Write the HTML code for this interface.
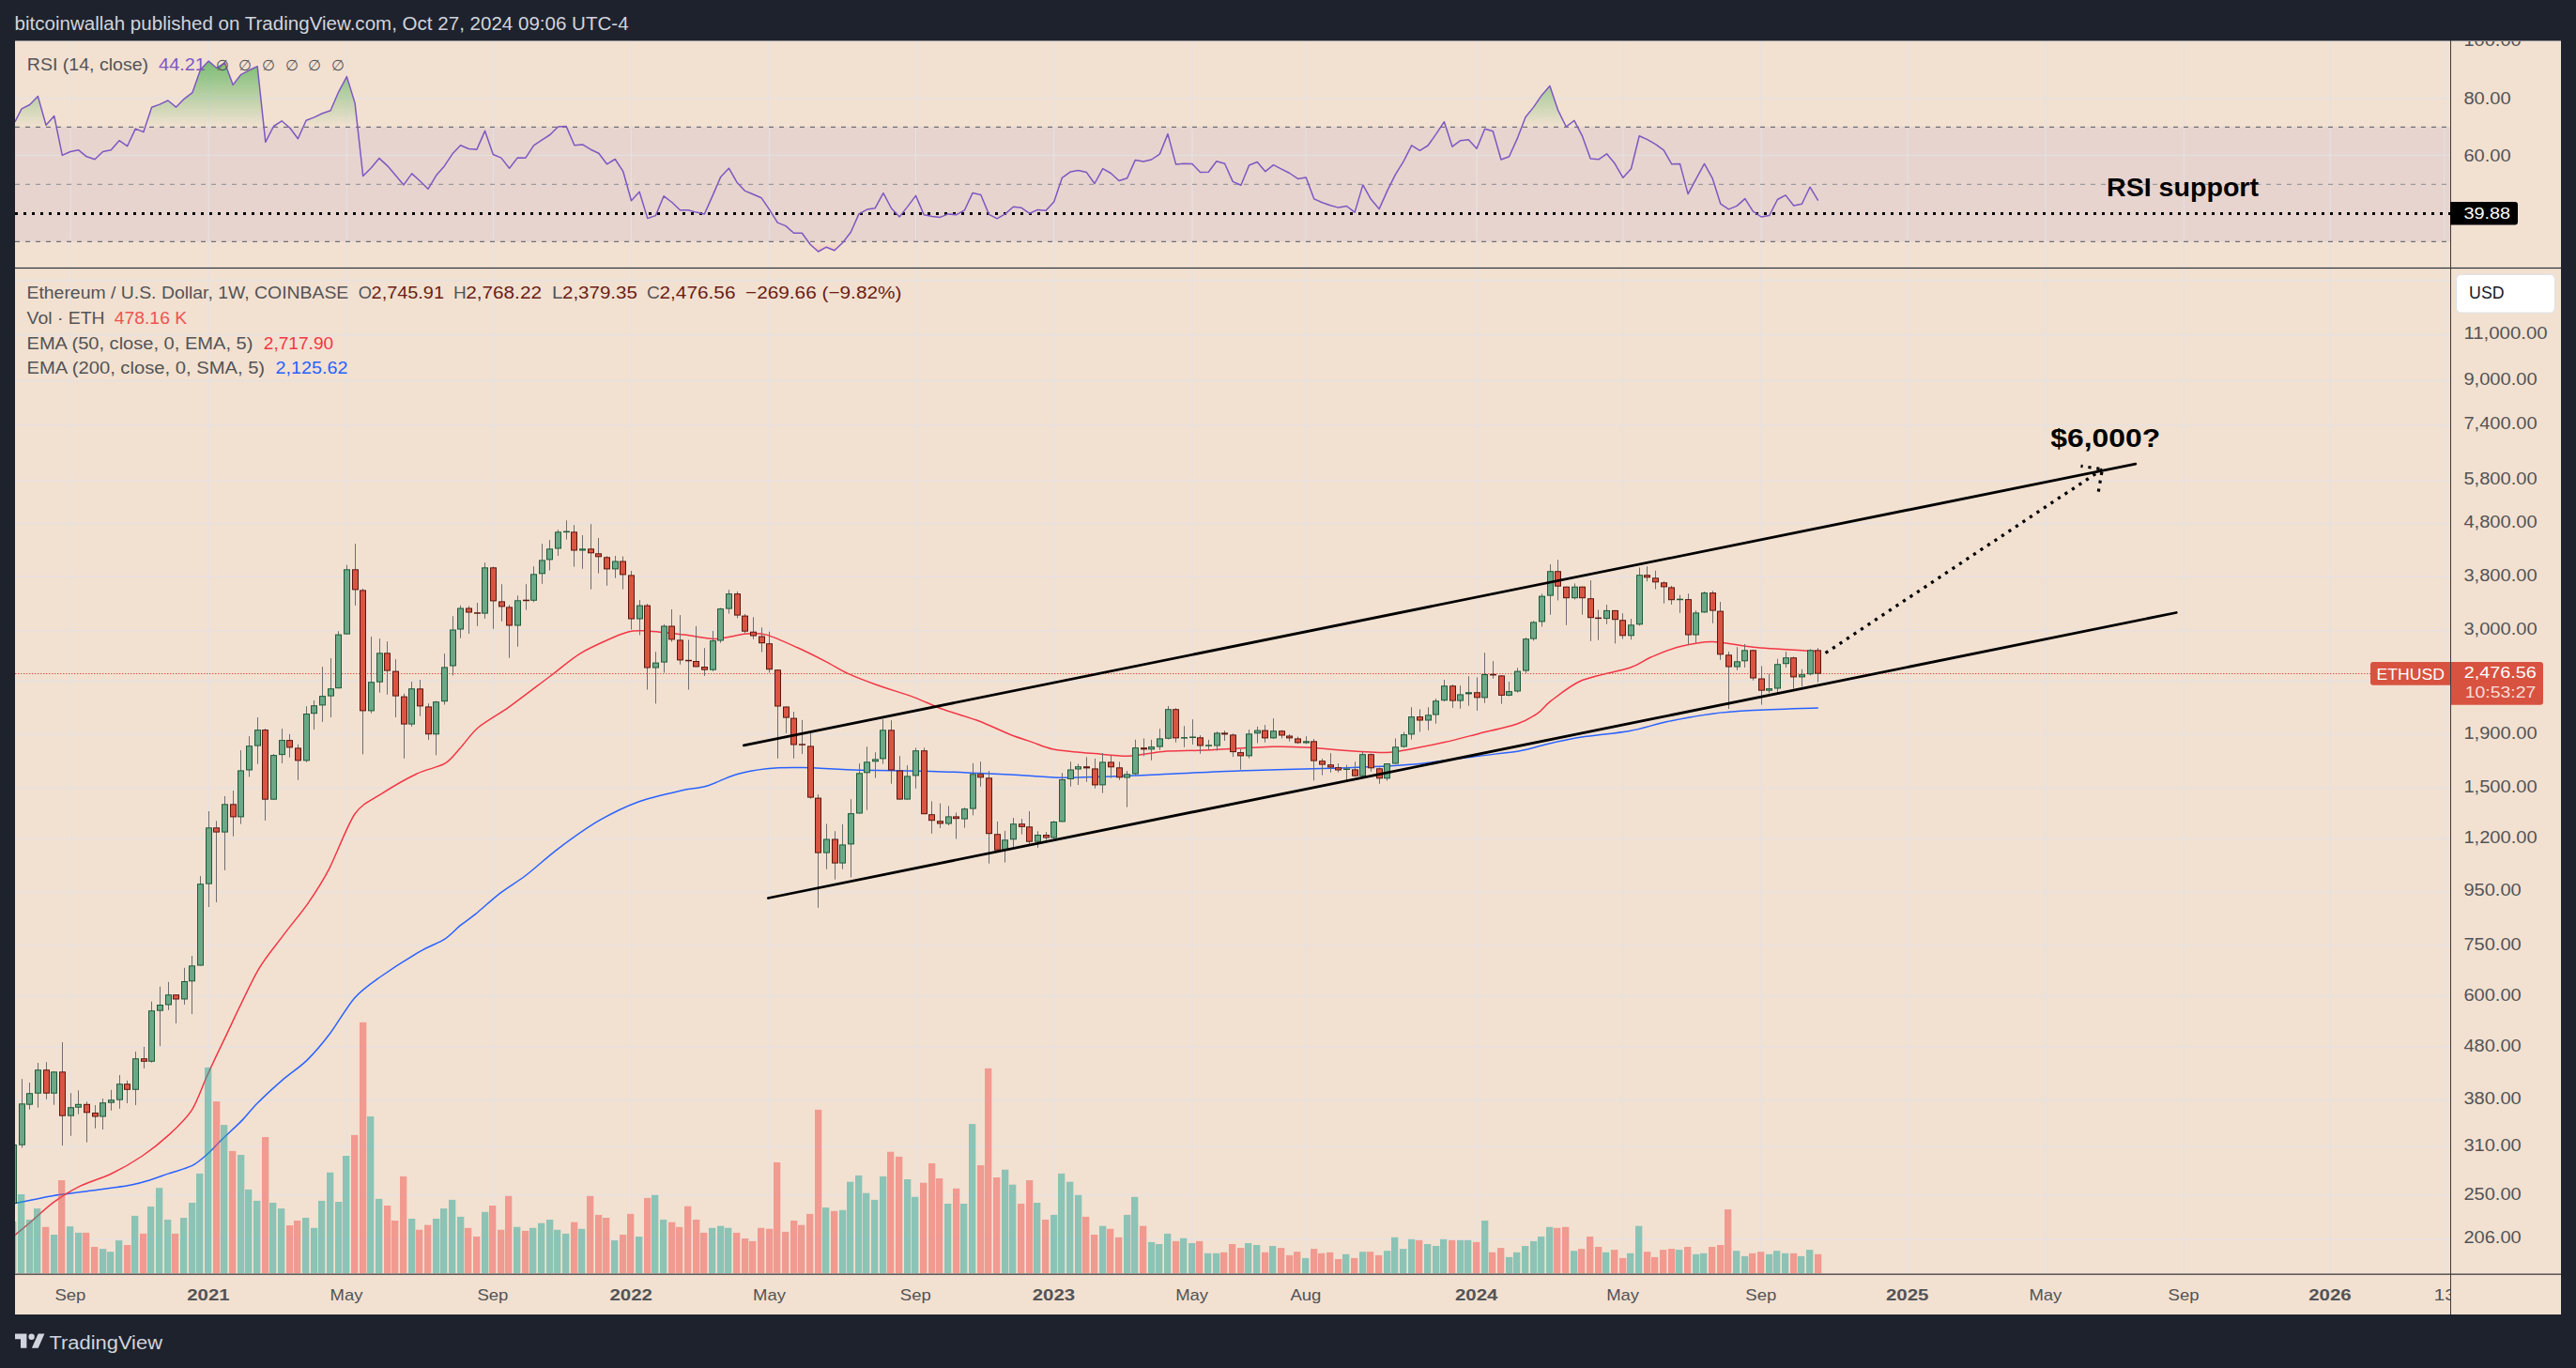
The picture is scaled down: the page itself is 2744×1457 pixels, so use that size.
<!DOCTYPE html>
<html><head><meta charset="utf-8"><title>ETHUSD chart</title>
<style>
html,body{margin:0;padding:0;background:#1e222d;}
body{width:2744px;height:1457px;overflow:hidden;}
svg{display:block;font-family:"Liberation Sans",sans-serif;}
</style></head><body>
<svg width="2744" height="1457" viewBox="0 0 2744 1457">
<defs>
<clipPath id="main"><rect x="16" y="286" width="2594" height="1070.5"/></clipPath>
<clipPath id="rsi"><rect x="16" y="44" width="2594" height="240.5"/></clipPath>
<clipPath id="ob"><rect x="16" y="44" width="2594" height="91.3"/></clipPath>
<clipPath id="os"><rect x="16" y="257.4" width="2594" height="28"/></clipPath>
<clipPath id="pax"><rect x="2611" y="44" width="117" height="1312"/></clipPath>
<clipPath id="tax"><rect x="16" y="1358" width="2594" height="42"/></clipPath>
<linearGradient id="gob" x1="0" y1="44" x2="0" y2="135.3" gradientUnits="userSpaceOnUse">
<stop offset="0" stop-color="#4caf50" stop-opacity="0.95"/>
<stop offset="1" stop-color="#4caf50" stop-opacity="0"/>
</linearGradient>
<linearGradient id="gos" x1="0" y1="257.4" x2="0" y2="285" gradientUnits="userSpaceOnUse">
<stop offset="0" stop-color="#ff5252" stop-opacity="0"/>
<stop offset="1" stop-color="#ff5252" stop-opacity="0.45"/>
</linearGradient>
</defs>

<rect x="0" y="0" width="2744" height="1457" fill="#1e222d"/>
<rect x="16" y="43" width="2712" height="1357" fill="#f2e1d1"/>
<rect x="16" y="43" width="2712" height="1" fill="#8a8a8e"/>
<text x="15.5" y="31.8" font-size="19.5" fill="#d1d4dc" textLength="654.1" lengthAdjust="spacingAndGlyphs">bitcoinwallah published on TradingView.com, Oct 27, 2024 09:06 UTC-4</text>
<rect x="16" y="135.3" width="2594" height="122.1" fill="#e7d4ce"/>
<rect x="74.7" y="44" width="1" height="1313" fill="#e3e2e6"/>
<rect x="221.7" y="44" width="1" height="1313" fill="#e3e2e6"/>
<rect x="368.9" y="44" width="1" height="1313" fill="#e3e2e6"/>
<rect x="524.8" y="44" width="1" height="1313" fill="#e3e2e6"/>
<rect x="672.0" y="44" width="1" height="1313" fill="#e3e2e6"/>
<rect x="819.2" y="44" width="1" height="1313" fill="#e3e2e6"/>
<rect x="975.0" y="44" width="1" height="1313" fill="#e3e2e6"/>
<rect x="1122.2" y="44" width="1" height="1313" fill="#e3e2e6"/>
<rect x="1269.5" y="44" width="1" height="1313" fill="#e3e2e6"/>
<rect x="1390.7" y="44" width="1" height="1313" fill="#e3e2e6"/>
<rect x="1572.5" y="44" width="1" height="1313" fill="#e3e2e6"/>
<rect x="1728.4" y="44" width="1" height="1313" fill="#e3e2e6"/>
<rect x="1875.6" y="44" width="1" height="1313" fill="#e3e2e6"/>
<rect x="2031.5" y="44" width="1" height="1313" fill="#e3e2e6"/>
<rect x="2178.7" y="44" width="1" height="1313" fill="#e3e2e6"/>
<rect x="2325.8" y="44" width="1" height="1313" fill="#e3e2e6"/>
<rect x="2481.7" y="44" width="1" height="1313" fill="#e3e2e6"/>
<rect x="2603.1" y="44" width="1" height="1313" fill="#e3e2e6"/>
<rect x="16" y="297.9" width="2594" height="1" fill="#e3e2e6"/>
<rect x="16" y="356.3" width="2594" height="1" fill="#e3e2e6"/>
<rect x="16" y="404.9" width="2594" height="1" fill="#e3e2e6"/>
<rect x="16" y="452.3" width="2594" height="1" fill="#e3e2e6"/>
<rect x="16" y="511.3" width="2594" height="1" fill="#e3e2e6"/>
<rect x="16" y="557.1" width="2594" height="1" fill="#e3e2e6"/>
<rect x="16" y="613.7" width="2594" height="1" fill="#e3e2e6"/>
<rect x="16" y="670.9" width="2594" height="1" fill="#e3e2e6"/>
<rect x="16" y="724.9" width="2594" height="1" fill="#e3e2e6"/>
<rect x="16" y="781.5" width="2594" height="1" fill="#e3e2e6"/>
<rect x="16" y="838.7" width="2594" height="1" fill="#e3e2e6"/>
<rect x="16" y="892.8" width="2594" height="1" fill="#e3e2e6"/>
<rect x="16" y="949.3" width="2594" height="1" fill="#e3e2e6"/>
<rect x="16" y="1006.5" width="2594" height="1" fill="#e3e2e6"/>
<rect x="16" y="1060.6" width="2594" height="1" fill="#e3e2e6"/>
<rect x="16" y="1114.6" width="2594" height="1" fill="#e3e2e6"/>
<rect x="16" y="1171.2" width="2594" height="1" fill="#e3e2e6"/>
<rect x="16" y="1220.5" width="2594" height="1" fill="#e3e2e6"/>
<rect x="16" y="1272.5" width="2594" height="1" fill="#e3e2e6"/>
<rect x="16" y="1319.4" width="2594" height="1" fill="#e3e2e6"/>
<rect x="16" y="104.1" width="2594" height="1" fill="#e3e2e6"/>
<rect x="16" y="164.9" width="2594" height="1" fill="#e3e2e6"/>
<line x1="16" y1="135.3" x2="2610" y2="135.3" stroke="#6f7077" stroke-width="1.2" stroke-dasharray="5 6"/>
<line x1="16" y1="196.4" x2="2610" y2="196.4" stroke="#9a9a9e" stroke-width="1.2" stroke-dasharray="5 6"/>
<line x1="16" y1="257.4" x2="2610" y2="257.4" stroke="#6f7077" stroke-width="1.2" stroke-dasharray="5 6"/>
<path d="M16.0,129.7 L23.0,115.9 L31.7,111.5 L40.4,102.6 L49.0,133.2 L57.7,123.5 L66.3,165.4 L75.0,161.5 L83.7,159.8 L92.3,166.8 L101.0,169.8 L109.6,161.5 L118.3,159.8 L127.0,149.7 L135.6,155.7 L144.3,137.1 L152.9,140.6 L161.6,114.3 L170.2,111.1 L178.9,107.0 L187.6,114.1 L196.2,105.3 L204.9,98.7 L213.5,74.3 L222.2,65.1 L230.9,72.5 L239.5,66.9 L248.2,90.4 L256.8,79.3 L265.5,74.8 L274.2,70.8 L282.8,151.3 L291.5,134.5 L300.1,128.8 L308.8,136.2 L317.4,147.7 L326.1,128.3 L334.8,124.9 L343.4,120.8 L352.1,117.8 L360.7,97.8 L369.4,81.6 L378.1,109.9 L386.7,187.5 L395.4,178.7 L404.0,168.6 L412.7,176.6 L421.4,186.8 L430.0,196.9 L438.7,184.9 L447.3,192.8 L456.0,201.3 L464.7,186.8 L473.3,176.9 L482.0,163.8 L490.6,154.8 L499.3,158.5 L507.9,159.2 L516.6,139.4 L525.3,164.5 L533.9,168.1 L542.6,179.2 L551.2,168.1 L559.9,168.2 L568.6,154.8 L577.2,149.1 L585.9,143.5 L594.5,135.0 L603.2,134.6 L611.9,154.8 L620.5,153.9 L629.2,159.2 L637.8,163.3 L646.5,174.8 L655.2,169.5 L663.8,182.7 L672.5,213.7 L681.1,204.3 L689.8,232.6 L698.4,229.6 L707.1,208.8 L715.8,215.5 L724.4,223.8 L733.1,223.8 L741.7,226.1 L750.4,227.9 L759.1,208.4 L767.7,188.4 L776.4,179.2 L785.0,194.2 L793.7,203.4 L802.4,207.0 L811.0,210.7 L819.7,223.4 L828.3,237.1 L837.0,240.6 L845.6,248.2 L854.3,248.2 L863.0,260.2 L871.6,268.0 L880.3,263.2 L888.9,266.8 L897.6,258.5 L906.3,247.3 L914.9,227.9 L923.6,223.1 L932.2,221.7 L940.9,205.7 L949.6,222.0 L958.2,230.9 L966.9,219.9 L975.5,208.4 L984.2,228.7 L992.9,230.5 L1001.5,231.4 L1010.2,227.9 L1018.8,228.7 L1027.5,223.8 L1036.1,205.4 L1044.8,207.5 L1053.5,228.4 L1062.1,232.8 L1070.8,227.9 L1079.4,220.3 L1088.1,221.3 L1096.8,227.3 L1105.4,223.4 L1114.1,224.3 L1122.7,215.0 L1131.4,189.3 L1140.1,183.1 L1148.7,181.5 L1157.4,183.6 L1166.0,195.5 L1174.7,179.7 L1183.3,184.5 L1192.0,192.5 L1200.7,189.8 L1209.3,170.4 L1218.0,172.1 L1226.6,170.0 L1235.3,164.2 L1244.0,142.6 L1252.6,175.1 L1261.3,174.3 L1269.9,174.4 L1278.6,183.6 L1287.3,183.3 L1295.9,171.8 L1304.6,174.3 L1313.2,193.4 L1321.9,197.3 L1330.6,176.0 L1339.2,172.5 L1347.9,182.7 L1356.5,175.7 L1365.2,180.1 L1373.8,184.5 L1382.5,190.4 L1391.2,188.9 L1399.8,211.9 L1408.5,215.8 L1417.1,218.7 L1425.8,221.1 L1434.5,219.5 L1443.1,226.1 L1451.8,196.9 L1460.4,212.3 L1469.1,222.6 L1477.8,203.1 L1486.4,185.9 L1495.1,171.8 L1503.7,154.8 L1512.4,160.3 L1521.1,155.0 L1529.7,142.9 L1538.4,129.7 L1547.0,156.2 L1555.7,149.7 L1564.3,148.8 L1573.0,158.3 L1581.7,137.3 L1590.3,139.8 L1599.0,170.0 L1607.6,166.8 L1616.3,147.4 L1625.0,124.7 L1633.6,114.1 L1642.3,101.4 L1650.9,91.6 L1659.6,117.3 L1668.3,135.0 L1676.9,128.4 L1685.6,145.2 L1694.2,169.0 L1702.9,169.8 L1711.5,163.8 L1720.2,174.3 L1728.9,189.3 L1737.5,179.7 L1746.2,144.7 L1754.8,148.6 L1763.5,153.6 L1772.2,159.8 L1780.8,174.8 L1789.5,174.4 L1798.1,206.6 L1806.8,190.4 L1815.5,174.3 L1824.1,189.8 L1832.8,217.2 L1841.4,222.9 L1850.1,219.4 L1858.8,211.6 L1867.4,225.2 L1876.1,231.0 L1884.7,229.6 L1893.4,212.5 L1902.0,207.9 L1910.7,219.0 L1919.4,217.2 L1928.0,199.2 L1936.7,213.7 L1936.7,135.3 L16,135.3 Z" fill="url(#gob)" clip-path="url(#ob)"/>
<path d="M16.0,129.7 L23.0,115.9 L31.7,111.5 L40.4,102.6 L49.0,133.2 L57.7,123.5 L66.3,165.4 L75.0,161.5 L83.7,159.8 L92.3,166.8 L101.0,169.8 L109.6,161.5 L118.3,159.8 L127.0,149.7 L135.6,155.7 L144.3,137.1 L152.9,140.6 L161.6,114.3 L170.2,111.1 L178.9,107.0 L187.6,114.1 L196.2,105.3 L204.9,98.7 L213.5,74.3 L222.2,65.1 L230.9,72.5 L239.5,66.9 L248.2,90.4 L256.8,79.3 L265.5,74.8 L274.2,70.8 L282.8,151.3 L291.5,134.5 L300.1,128.8 L308.8,136.2 L317.4,147.7 L326.1,128.3 L334.8,124.9 L343.4,120.8 L352.1,117.8 L360.7,97.8 L369.4,81.6 L378.1,109.9 L386.7,187.5 L395.4,178.7 L404.0,168.6 L412.7,176.6 L421.4,186.8 L430.0,196.9 L438.7,184.9 L447.3,192.8 L456.0,201.3 L464.7,186.8 L473.3,176.9 L482.0,163.8 L490.6,154.8 L499.3,158.5 L507.9,159.2 L516.6,139.4 L525.3,164.5 L533.9,168.1 L542.6,179.2 L551.2,168.1 L559.9,168.2 L568.6,154.8 L577.2,149.1 L585.9,143.5 L594.5,135.0 L603.2,134.6 L611.9,154.8 L620.5,153.9 L629.2,159.2 L637.8,163.3 L646.5,174.8 L655.2,169.5 L663.8,182.7 L672.5,213.7 L681.1,204.3 L689.8,232.6 L698.4,229.6 L707.1,208.8 L715.8,215.5 L724.4,223.8 L733.1,223.8 L741.7,226.1 L750.4,227.9 L759.1,208.4 L767.7,188.4 L776.4,179.2 L785.0,194.2 L793.7,203.4 L802.4,207.0 L811.0,210.7 L819.7,223.4 L828.3,237.1 L837.0,240.6 L845.6,248.2 L854.3,248.2 L863.0,260.2 L871.6,268.0 L880.3,263.2 L888.9,266.8 L897.6,258.5 L906.3,247.3 L914.9,227.9 L923.6,223.1 L932.2,221.7 L940.9,205.7 L949.6,222.0 L958.2,230.9 L966.9,219.9 L975.5,208.4 L984.2,228.7 L992.9,230.5 L1001.5,231.4 L1010.2,227.9 L1018.8,228.7 L1027.5,223.8 L1036.1,205.4 L1044.8,207.5 L1053.5,228.4 L1062.1,232.8 L1070.8,227.9 L1079.4,220.3 L1088.1,221.3 L1096.8,227.3 L1105.4,223.4 L1114.1,224.3 L1122.7,215.0 L1131.4,189.3 L1140.1,183.1 L1148.7,181.5 L1157.4,183.6 L1166.0,195.5 L1174.7,179.7 L1183.3,184.5 L1192.0,192.5 L1200.7,189.8 L1209.3,170.4 L1218.0,172.1 L1226.6,170.0 L1235.3,164.2 L1244.0,142.6 L1252.6,175.1 L1261.3,174.3 L1269.9,174.4 L1278.6,183.6 L1287.3,183.3 L1295.9,171.8 L1304.6,174.3 L1313.2,193.4 L1321.9,197.3 L1330.6,176.0 L1339.2,172.5 L1347.9,182.7 L1356.5,175.7 L1365.2,180.1 L1373.8,184.5 L1382.5,190.4 L1391.2,188.9 L1399.8,211.9 L1408.5,215.8 L1417.1,218.7 L1425.8,221.1 L1434.5,219.5 L1443.1,226.1 L1451.8,196.9 L1460.4,212.3 L1469.1,222.6 L1477.8,203.1 L1486.4,185.9 L1495.1,171.8 L1503.7,154.8 L1512.4,160.3 L1521.1,155.0 L1529.7,142.9 L1538.4,129.7 L1547.0,156.2 L1555.7,149.7 L1564.3,148.8 L1573.0,158.3 L1581.7,137.3 L1590.3,139.8 L1599.0,170.0 L1607.6,166.8 L1616.3,147.4 L1625.0,124.7 L1633.6,114.1 L1642.3,101.4 L1650.9,91.6 L1659.6,117.3 L1668.3,135.0 L1676.9,128.4 L1685.6,145.2 L1694.2,169.0 L1702.9,169.8 L1711.5,163.8 L1720.2,174.3 L1728.9,189.3 L1737.5,179.7 L1746.2,144.7 L1754.8,148.6 L1763.5,153.6 L1772.2,159.8 L1780.8,174.8 L1789.5,174.4 L1798.1,206.6 L1806.8,190.4 L1815.5,174.3 L1824.1,189.8 L1832.8,217.2 L1841.4,222.9 L1850.1,219.4 L1858.8,211.6 L1867.4,225.2 L1876.1,231.0 L1884.7,229.6 L1893.4,212.5 L1902.0,207.9 L1910.7,219.0 L1919.4,217.2 L1928.0,199.2 L1936.7,213.7 L1936.7,257.4 L16,257.4 Z" fill="url(#gos)" clip-path="url(#os)"/>
<line x1="16" y1="227.4" x2="2610" y2="227.4" stroke="#000" stroke-width="3" stroke-dasharray="3 6"/>
<path d="M16.0,129.7 L23.0,115.9 L31.7,111.5 L40.4,102.6 L49.0,133.2 L57.7,123.5 L66.3,165.4 L75.0,161.5 L83.7,159.8 L92.3,166.8 L101.0,169.8 L109.6,161.5 L118.3,159.8 L127.0,149.7 L135.6,155.7 L144.3,137.1 L152.9,140.6 L161.6,114.3 L170.2,111.1 L178.9,107.0 L187.6,114.1 L196.2,105.3 L204.9,98.7 L213.5,74.3 L222.2,65.1 L230.9,72.5 L239.5,66.9 L248.2,90.4 L256.8,79.3 L265.5,74.8 L274.2,70.8 L282.8,151.3 L291.5,134.5 L300.1,128.8 L308.8,136.2 L317.4,147.7 L326.1,128.3 L334.8,124.9 L343.4,120.8 L352.1,117.8 L360.7,97.8 L369.4,81.6 L378.1,109.9 L386.7,187.5 L395.4,178.7 L404.0,168.6 L412.7,176.6 L421.4,186.8 L430.0,196.9 L438.7,184.9 L447.3,192.8 L456.0,201.3 L464.7,186.8 L473.3,176.9 L482.0,163.8 L490.6,154.8 L499.3,158.5 L507.9,159.2 L516.6,139.4 L525.3,164.5 L533.9,168.1 L542.6,179.2 L551.2,168.1 L559.9,168.2 L568.6,154.8 L577.2,149.1 L585.9,143.5 L594.5,135.0 L603.2,134.6 L611.9,154.8 L620.5,153.9 L629.2,159.2 L637.8,163.3 L646.5,174.8 L655.2,169.5 L663.8,182.7 L672.5,213.7 L681.1,204.3 L689.8,232.6 L698.4,229.6 L707.1,208.8 L715.8,215.5 L724.4,223.8 L733.1,223.8 L741.7,226.1 L750.4,227.9 L759.1,208.4 L767.7,188.4 L776.4,179.2 L785.0,194.2 L793.7,203.4 L802.4,207.0 L811.0,210.7 L819.7,223.4 L828.3,237.1 L837.0,240.6 L845.6,248.2 L854.3,248.2 L863.0,260.2 L871.6,268.0 L880.3,263.2 L888.9,266.8 L897.6,258.5 L906.3,247.3 L914.9,227.9 L923.6,223.1 L932.2,221.7 L940.9,205.7 L949.6,222.0 L958.2,230.9 L966.9,219.9 L975.5,208.4 L984.2,228.7 L992.9,230.5 L1001.5,231.4 L1010.2,227.9 L1018.8,228.7 L1027.5,223.8 L1036.1,205.4 L1044.8,207.5 L1053.5,228.4 L1062.1,232.8 L1070.8,227.9 L1079.4,220.3 L1088.1,221.3 L1096.8,227.3 L1105.4,223.4 L1114.1,224.3 L1122.7,215.0 L1131.4,189.3 L1140.1,183.1 L1148.7,181.5 L1157.4,183.6 L1166.0,195.5 L1174.7,179.7 L1183.3,184.5 L1192.0,192.5 L1200.7,189.8 L1209.3,170.4 L1218.0,172.1 L1226.6,170.0 L1235.3,164.2 L1244.0,142.6 L1252.6,175.1 L1261.3,174.3 L1269.9,174.4 L1278.6,183.6 L1287.3,183.3 L1295.9,171.8 L1304.6,174.3 L1313.2,193.4 L1321.9,197.3 L1330.6,176.0 L1339.2,172.5 L1347.9,182.7 L1356.5,175.7 L1365.2,180.1 L1373.8,184.5 L1382.5,190.4 L1391.2,188.9 L1399.8,211.9 L1408.5,215.8 L1417.1,218.7 L1425.8,221.1 L1434.5,219.5 L1443.1,226.1 L1451.8,196.9 L1460.4,212.3 L1469.1,222.6 L1477.8,203.1 L1486.4,185.9 L1495.1,171.8 L1503.7,154.8 L1512.4,160.3 L1521.1,155.0 L1529.7,142.9 L1538.4,129.7 L1547.0,156.2 L1555.7,149.7 L1564.3,148.8 L1573.0,158.3 L1581.7,137.3 L1590.3,139.8 L1599.0,170.0 L1607.6,166.8 L1616.3,147.4 L1625.0,124.7 L1633.6,114.1 L1642.3,101.4 L1650.9,91.6 L1659.6,117.3 L1668.3,135.0 L1676.9,128.4 L1685.6,145.2 L1694.2,169.0 L1702.9,169.8 L1711.5,163.8 L1720.2,174.3 L1728.9,189.3 L1737.5,179.7 L1746.2,144.7 L1754.8,148.6 L1763.5,153.6 L1772.2,159.8 L1780.8,174.8 L1789.5,174.4 L1798.1,206.6 L1806.8,190.4 L1815.5,174.3 L1824.1,189.8 L1832.8,217.2 L1841.4,222.9 L1850.1,219.4 L1858.8,211.6 L1867.4,225.2 L1876.1,231.0 L1884.7,229.6 L1893.4,212.5 L1902.0,207.9 L1910.7,219.0 L1919.4,217.2 L1928.0,199.2 L1936.7,213.7" fill="none" stroke="#7e57c2" stroke-width="1.5" stroke-linejoin="round" clip-path="url(#rsi)"/>
<rect x="16" y="284.9" width="2712" height="1.2" fill="#2e323c"/>
<g clip-path="url(#main)">
<path d="M16.0,1281.6 C21.8,1280.4 45.2,1275.4 56.9,1273.4 C68.6,1271.4 86.2,1269.5 97.9,1267.9 C109.6,1266.3 130.0,1263.8 138.8,1262.2 C147.6,1260.6 153.5,1258.8 159.3,1257.0 C165.1,1255.2 173.3,1252.1 179.7,1249.9 C186.1,1247.7 198.4,1244.6 204.3,1241.7 C210.2,1238.8 216.0,1233.5 220.7,1229.4 C225.4,1225.3 231.7,1218.1 237.0,1213.0 C242.3,1207.9 252.2,1199.0 257.5,1193.6 C262.8,1188.2 267.8,1181.3 273.9,1175.2 C280.0,1169.1 292.9,1157.2 300.5,1150.6 C308.1,1144.0 319.8,1136.3 327.1,1129.1 C334.4,1121.9 344.5,1110.0 351.7,1100.5 C358.9,1091.0 370.1,1071.4 377.6,1062.9 C385.1,1054.4 394.3,1048.1 404.3,1041.0 C414.3,1033.9 437.4,1019.2 447.3,1013.4 C457.2,1007.6 467.8,1004.1 473.9,1000.1 C480.0,996.1 485.6,989.5 490.3,985.7 C495.0,981.9 500.6,978.4 506.7,973.4 C512.8,968.4 525.7,956.7 533.3,950.9 C540.9,945.1 551.1,939.2 559.9,932.5 C568.7,925.8 583.6,912.1 594.7,903.8 C605.8,895.5 625.4,881.4 637.7,874.2 C650.0,867.0 668.1,858.3 680.7,853.7 C693.3,849.1 715.5,844.3 725.7,842.0 C735.9,839.7 744.0,839.7 752.3,837.3 C760.6,834.9 774.5,827.7 783.7,825.0 C792.9,822.3 806.4,819.8 816.6,818.7 C826.8,817.6 840.9,817.4 855.0,817.6 C869.1,817.8 895.7,819.8 915.3,820.3 C934.9,820.8 973.9,820.9 992.1,821.4 C1010.3,821.9 1031.0,823.0 1043.0,823.5 C1055.0,824.0 1067.9,824.6 1076.0,825.0 C1084.1,825.4 1091.4,825.9 1100.0,826.4 C1108.6,826.9 1120.8,828.3 1136.5,828.2 C1152.2,828.1 1183.5,827.0 1209.6,826.0 C1235.7,825.0 1288.0,822.0 1319.3,820.9 C1350.6,819.8 1402.8,818.9 1428.9,818.0 C1455.0,817.1 1481.1,816.1 1502.0,814.3 C1522.9,812.5 1558.4,807.3 1575.1,805.2 C1591.8,803.1 1608.6,801.5 1619.0,799.7 C1629.4,797.9 1638.8,794.5 1648.2,792.4 C1657.6,790.3 1672.3,787.1 1684.8,785.1 C1697.3,783.1 1722.9,780.9 1736.0,778.5 C1749.1,776.1 1763.7,771.2 1776.2,768.6 C1788.7,766.0 1810.7,761.9 1823.7,760.2 C1836.7,758.5 1851.4,757.5 1867.5,756.6 C1883.6,755.7 1926.5,754.4 1936.3,754.0" fill="none" stroke="#2962ff" stroke-width="1.5" stroke-linejoin="round" stroke-linecap="round"/>
<path d="M16.0,1315.4 C18.6,1313.2 28.6,1305.0 34.4,1300.0 C40.2,1295.0 49.6,1285.9 56.9,1280.6 C64.2,1275.3 76.8,1267.5 85.6,1263.2 C94.4,1258.9 108.9,1254.8 118.3,1250.3 C127.7,1245.8 142.3,1237.4 151.1,1231.5 C159.9,1225.6 172.1,1215.9 179.7,1208.9 C187.3,1201.9 198.4,1191.4 204.3,1182.3 C210.2,1173.2 215.9,1156.0 220.7,1145.5 C225.5,1135.0 230.5,1124.4 238.1,1108.7 C245.7,1093.0 264.7,1051.3 273.7,1035.3 C282.7,1019.3 293.4,1007.5 301.2,996.9 C309.0,986.3 321.6,971.5 328.6,961.3 C335.6,951.1 343.5,939.1 350.5,925.6 C357.5,912.1 370.1,878.4 377.9,867.0 C385.7,855.6 395.9,852.2 405.3,846.1 C414.7,840.0 433.9,828.9 443.7,824.2 C453.5,819.5 467.2,817.2 473.9,813.2 C480.6,809.2 485.3,802.0 490.4,796.5 C495.5,791.0 502.1,781.0 509.5,774.8 C516.9,768.6 531.4,760.7 542.4,752.9 C553.4,745.1 575.3,728.2 586.3,720.0 C597.3,711.8 608.2,701.7 619.2,695.3 C630.2,688.9 653.7,678.4 663.1,675.0 C672.5,671.6 675.6,671.5 685.0,671.7 C694.4,671.9 717.9,674.8 728.9,676.1 C739.9,677.4 752.4,680.7 761.8,680.5 C771.2,680.3 786.9,675.6 794.7,675.0 C802.5,674.4 808.8,674.0 816.6,676.1 C824.4,678.2 840.6,685.8 849.5,689.8 C858.4,693.8 871.5,700.4 879.2,704.3 C886.9,708.2 895.5,713.8 903.3,717.4 C911.1,721.0 924.0,725.9 934.0,729.5 C944.0,733.1 963.6,739.0 973.5,742.6 C983.4,746.2 993.2,751.4 1003.1,755.0 C1013.0,758.6 1032.5,764.1 1042.9,768.0 C1053.3,771.9 1067.6,779.0 1075.8,782.2 C1084.0,785.4 1093.4,788.4 1100.0,790.6 C1106.6,792.8 1112.5,796.2 1121.9,797.9 C1131.3,799.6 1154.3,801.6 1165.8,802.6 C1177.3,803.6 1191.9,805.5 1202.3,805.2 C1212.7,804.9 1227.4,801.3 1238.9,800.4 C1250.4,799.5 1266.0,799.7 1282.7,799.0 C1299.4,798.3 1340.1,795.7 1355.8,795.3 C1371.5,794.9 1382.0,795.5 1392.4,796.0 C1402.8,796.5 1416.9,798.2 1428.9,799.0 C1440.9,799.8 1466.1,801.7 1476.5,801.5 C1486.9,801.3 1493.1,799.5 1502.0,797.9 C1510.9,796.3 1528.2,793.0 1538.6,790.6 C1549.0,788.2 1564.1,784.2 1575.1,781.4 C1586.1,778.6 1606.5,774.2 1615.4,771.2 C1624.3,768.2 1632.1,763.7 1637.3,760.2 C1642.5,756.7 1645.1,751.8 1651.9,746.7 C1658.7,741.6 1672.8,729.9 1684.8,724.8 C1696.8,719.7 1725.6,714.8 1736.0,711.3 C1746.4,707.8 1750.6,703.4 1757.9,700.3 C1765.2,697.2 1777.7,691.7 1787.1,689.3 C1796.5,686.9 1812.2,683.5 1823.7,683.5 C1835.2,683.5 1853.4,687.9 1867.5,689.3 C1881.6,690.7 1912.6,692.4 1922.4,693.0 C1932.2,693.6 1934.1,693.3 1936.0,693.4" fill="none" stroke="#f23645" stroke-width="1.5" stroke-linejoin="round" stroke-linecap="round"/>
</g>
<g clip-path="url(#main)"><rect x="10" y="1301.0" width="7.3" height="55.0" fill="#26a69a" fill-opacity="0.5"/>
<rect x="19" y="1272.0" width="7.3" height="84.0" fill="#26a69a" fill-opacity="0.5"/>
<rect x="28" y="1299.0" width="7.3" height="57.0" fill="#26a69a" fill-opacity="0.5"/>
<rect x="36" y="1287.1" width="7.3" height="68.9" fill="#26a69a" fill-opacity="0.5"/>
<rect x="45" y="1306.8" width="7.3" height="49.2" fill="#ef5350" fill-opacity="0.5"/>
<rect x="54" y="1315.0" width="7.3" height="41.0" fill="#26a69a" fill-opacity="0.5"/>
<rect x="62" y="1257.0" width="7.3" height="99.0" fill="#ef5350" fill-opacity="0.5"/>
<rect x="71" y="1306.2" width="7.3" height="49.8" fill="#26a69a" fill-opacity="0.5"/>
<rect x="80" y="1312.9" width="7.3" height="43.1" fill="#26a69a" fill-opacity="0.5"/>
<rect x="88" y="1312.9" width="7.3" height="43.1" fill="#ef5350" fill-opacity="0.5"/>
<rect x="97" y="1328.0" width="7.3" height="28.0" fill="#ef5350" fill-opacity="0.5"/>
<rect x="106" y="1330.1" width="7.3" height="25.9" fill="#26a69a" fill-opacity="0.5"/>
<rect x="114" y="1333.2" width="7.3" height="22.8" fill="#26a69a" fill-opacity="0.5"/>
<rect x="123" y="1321.1" width="7.3" height="34.9" fill="#26a69a" fill-opacity="0.5"/>
<rect x="132" y="1326.0" width="7.3" height="30.0" fill="#ef5350" fill-opacity="0.5"/>
<rect x="140" y="1294.9" width="7.3" height="61.1" fill="#26a69a" fill-opacity="0.5"/>
<rect x="149" y="1313.9" width="7.3" height="42.1" fill="#ef5350" fill-opacity="0.5"/>
<rect x="157" y="1285.1" width="7.3" height="70.9" fill="#26a69a" fill-opacity="0.5"/>
<rect x="166" y="1265.2" width="7.3" height="90.8" fill="#26a69a" fill-opacity="0.5"/>
<rect x="175" y="1299.0" width="7.3" height="57.0" fill="#26a69a" fill-opacity="0.5"/>
<rect x="183" y="1313.9" width="7.3" height="42.1" fill="#ef5350" fill-opacity="0.5"/>
<rect x="192" y="1297.0" width="7.3" height="59.0" fill="#26a69a" fill-opacity="0.5"/>
<rect x="201" y="1281.0" width="7.3" height="75.0" fill="#26a69a" fill-opacity="0.5"/>
<rect x="209" y="1249.9" width="7.3" height="106.1" fill="#26a69a" fill-opacity="0.5"/>
<rect x="218" y="1136.9" width="7.3" height="219.1" fill="#26a69a" fill-opacity="0.5"/>
<rect x="227" y="1173.1" width="7.3" height="182.9" fill="#ef5350" fill-opacity="0.5"/>
<rect x="235" y="1198.1" width="7.3" height="157.9" fill="#26a69a" fill-opacity="0.5"/>
<rect x="244" y="1225.9" width="7.3" height="130.1" fill="#ef5350" fill-opacity="0.5"/>
<rect x="253" y="1230.0" width="7.3" height="126.0" fill="#26a69a" fill-opacity="0.5"/>
<rect x="261" y="1266.9" width="7.3" height="89.1" fill="#26a69a" fill-opacity="0.5"/>
<rect x="270" y="1278.9" width="7.3" height="77.1" fill="#26a69a" fill-opacity="0.5"/>
<rect x="279" y="1211.0" width="7.3" height="145.0" fill="#ef5350" fill-opacity="0.5"/>
<rect x="287" y="1281.0" width="7.3" height="75.0" fill="#26a69a" fill-opacity="0.5"/>
<rect x="296" y="1287.1" width="7.3" height="68.9" fill="#26a69a" fill-opacity="0.5"/>
<rect x="305" y="1305.1" width="7.3" height="50.9" fill="#ef5350" fill-opacity="0.5"/>
<rect x="313" y="1300.0" width="7.3" height="56.0" fill="#ef5350" fill-opacity="0.5"/>
<rect x="322" y="1297.0" width="7.3" height="59.0" fill="#26a69a" fill-opacity="0.5"/>
<rect x="331" y="1307.8" width="7.3" height="48.2" fill="#26a69a" fill-opacity="0.5"/>
<rect x="339" y="1278.9" width="7.3" height="77.1" fill="#26a69a" fill-opacity="0.5"/>
<rect x="348" y="1248.8" width="7.3" height="107.2" fill="#26a69a" fill-opacity="0.5"/>
<rect x="357" y="1280.0" width="7.3" height="76.0" fill="#26a69a" fill-opacity="0.5"/>
<rect x="365" y="1231.0" width="7.3" height="125.0" fill="#26a69a" fill-opacity="0.5"/>
<rect x="374" y="1208.9" width="7.3" height="147.1" fill="#ef5350" fill-opacity="0.5"/>
<rect x="383" y="1088.8" width="7.3" height="267.2" fill="#ef5350" fill-opacity="0.5"/>
<rect x="391" y="1189.1" width="7.3" height="166.9" fill="#26a69a" fill-opacity="0.5"/>
<rect x="400" y="1276.9" width="7.3" height="79.1" fill="#26a69a" fill-opacity="0.5"/>
<rect x="409" y="1284.0" width="7.3" height="72.0" fill="#ef5350" fill-opacity="0.5"/>
<rect x="417" y="1300.0" width="7.3" height="56.0" fill="#ef5350" fill-opacity="0.5"/>
<rect x="426" y="1252.9" width="7.3" height="103.1" fill="#ef5350" fill-opacity="0.5"/>
<rect x="435" y="1298.0" width="7.3" height="58.0" fill="#26a69a" fill-opacity="0.5"/>
<rect x="443" y="1309.8" width="7.3" height="46.2" fill="#ef5350" fill-opacity="0.5"/>
<rect x="452" y="1304.7" width="7.3" height="51.3" fill="#ef5350" fill-opacity="0.5"/>
<rect x="461" y="1298.0" width="7.3" height="58.0" fill="#26a69a" fill-opacity="0.5"/>
<rect x="469" y="1287.1" width="7.3" height="68.9" fill="#26a69a" fill-opacity="0.5"/>
<rect x="478" y="1277.9" width="7.3" height="78.1" fill="#26a69a" fill-opacity="0.5"/>
<rect x="487" y="1295.9" width="7.3" height="60.1" fill="#26a69a" fill-opacity="0.5"/>
<rect x="495" y="1307.8" width="7.3" height="48.2" fill="#ef5350" fill-opacity="0.5"/>
<rect x="504" y="1317.0" width="7.3" height="39.0" fill="#ef5350" fill-opacity="0.5"/>
<rect x="513" y="1290.8" width="7.3" height="65.2" fill="#26a69a" fill-opacity="0.5"/>
<rect x="521" y="1284.0" width="7.3" height="72.0" fill="#ef5350" fill-opacity="0.5"/>
<rect x="530" y="1309.8" width="7.3" height="46.2" fill="#ef5350" fill-opacity="0.5"/>
<rect x="538" y="1273.8" width="7.3" height="82.2" fill="#ef5350" fill-opacity="0.5"/>
<rect x="547" y="1306.8" width="7.3" height="49.2" fill="#26a69a" fill-opacity="0.5"/>
<rect x="556" y="1310.9" width="7.3" height="45.1" fill="#ef5350" fill-opacity="0.5"/>
<rect x="564" y="1307.8" width="7.3" height="48.2" fill="#26a69a" fill-opacity="0.5"/>
<rect x="573" y="1302.7" width="7.3" height="53.3" fill="#26a69a" fill-opacity="0.5"/>
<rect x="582" y="1299.0" width="7.3" height="57.0" fill="#26a69a" fill-opacity="0.5"/>
<rect x="590" y="1309.8" width="7.3" height="46.2" fill="#26a69a" fill-opacity="0.5"/>
<rect x="599" y="1313.9" width="7.3" height="42.1" fill="#26a69a" fill-opacity="0.5"/>
<rect x="608" y="1301.7" width="7.3" height="54.3" fill="#ef5350" fill-opacity="0.5"/>
<rect x="616" y="1308.8" width="7.3" height="47.2" fill="#26a69a" fill-opacity="0.5"/>
<rect x="625" y="1273.8" width="7.3" height="82.2" fill="#ef5350" fill-opacity="0.5"/>
<rect x="634" y="1293.9" width="7.3" height="62.1" fill="#ef5350" fill-opacity="0.5"/>
<rect x="642" y="1297.0" width="7.3" height="59.0" fill="#ef5350" fill-opacity="0.5"/>
<rect x="651" y="1321.1" width="7.3" height="34.9" fill="#26a69a" fill-opacity="0.5"/>
<rect x="660" y="1315.0" width="7.3" height="41.0" fill="#ef5350" fill-opacity="0.5"/>
<rect x="668" y="1292.9" width="7.3" height="63.1" fill="#ef5350" fill-opacity="0.5"/>
<rect x="677" y="1317.0" width="7.3" height="39.0" fill="#26a69a" fill-opacity="0.5"/>
<rect x="686" y="1275.9" width="7.3" height="80.1" fill="#ef5350" fill-opacity="0.5"/>
<rect x="694" y="1272.8" width="7.3" height="83.2" fill="#26a69a" fill-opacity="0.5"/>
<rect x="703" y="1299.0" width="7.3" height="57.0" fill="#26a69a" fill-opacity="0.5"/>
<rect x="712" y="1301.7" width="7.3" height="54.3" fill="#ef5350" fill-opacity="0.5"/>
<rect x="720" y="1306.8" width="7.3" height="49.2" fill="#ef5350" fill-opacity="0.5"/>
<rect x="729" y="1284.7" width="7.3" height="71.3" fill="#ef5350" fill-opacity="0.5"/>
<rect x="738" y="1299.0" width="7.3" height="57.0" fill="#ef5350" fill-opacity="0.5"/>
<rect x="746" y="1312.9" width="7.3" height="43.1" fill="#ef5350" fill-opacity="0.5"/>
<rect x="755" y="1307.8" width="7.3" height="48.2" fill="#26a69a" fill-opacity="0.5"/>
<rect x="764" y="1305.7" width="7.3" height="50.3" fill="#26a69a" fill-opacity="0.5"/>
<rect x="772" y="1307.8" width="7.3" height="48.2" fill="#26a69a" fill-opacity="0.5"/>
<rect x="781" y="1312.9" width="7.3" height="43.1" fill="#ef5350" fill-opacity="0.5"/>
<rect x="790" y="1319.0" width="7.3" height="37.0" fill="#ef5350" fill-opacity="0.5"/>
<rect x="798" y="1321.9" width="7.3" height="34.1" fill="#ef5350" fill-opacity="0.5"/>
<rect x="807" y="1307.8" width="7.3" height="48.2" fill="#ef5350" fill-opacity="0.5"/>
<rect x="816" y="1308.8" width="7.3" height="47.2" fill="#ef5350" fill-opacity="0.5"/>
<rect x="824" y="1238.0" width="7.3" height="118.0" fill="#ef5350" fill-opacity="0.5"/>
<rect x="833" y="1311.9" width="7.3" height="44.1" fill="#ef5350" fill-opacity="0.5"/>
<rect x="842" y="1300.0" width="7.3" height="56.0" fill="#ef5350" fill-opacity="0.5"/>
<rect x="850" y="1304.7" width="7.3" height="51.3" fill="#ef5350" fill-opacity="0.5"/>
<rect x="859" y="1292.9" width="7.3" height="63.1" fill="#ef5350" fill-opacity="0.5"/>
<rect x="868" y="1181.9" width="7.3" height="174.1" fill="#ef5350" fill-opacity="0.5"/>
<rect x="876" y="1286.1" width="7.3" height="69.9" fill="#26a69a" fill-opacity="0.5"/>
<rect x="885" y="1289.8" width="7.3" height="66.2" fill="#ef5350" fill-opacity="0.5"/>
<rect x="894" y="1288.8" width="7.3" height="67.2" fill="#26a69a" fill-opacity="0.5"/>
<rect x="902" y="1258.7" width="7.3" height="97.3" fill="#26a69a" fill-opacity="0.5"/>
<rect x="911" y="1251.9" width="7.3" height="104.1" fill="#26a69a" fill-opacity="0.5"/>
<rect x="919" y="1270.7" width="7.3" height="85.3" fill="#26a69a" fill-opacity="0.5"/>
<rect x="928" y="1277.9" width="7.3" height="78.1" fill="#26a69a" fill-opacity="0.5"/>
<rect x="937" y="1252.9" width="7.3" height="103.1" fill="#26a69a" fill-opacity="0.5"/>
<rect x="945" y="1226.7" width="7.3" height="129.3" fill="#ef5350" fill-opacity="0.5"/>
<rect x="954" y="1231.9" width="7.3" height="124.1" fill="#ef5350" fill-opacity="0.5"/>
<rect x="963" y="1256.0" width="7.3" height="100.0" fill="#26a69a" fill-opacity="0.5"/>
<rect x="971" y="1274.8" width="7.3" height="81.2" fill="#26a69a" fill-opacity="0.5"/>
<rect x="980" y="1259.7" width="7.3" height="96.3" fill="#ef5350" fill-opacity="0.5"/>
<rect x="989" y="1239.0" width="7.3" height="117.0" fill="#ef5350" fill-opacity="0.5"/>
<rect x="997" y="1255.0" width="7.3" height="101.0" fill="#ef5350" fill-opacity="0.5"/>
<rect x="1006" y="1282.0" width="7.3" height="74.0" fill="#26a69a" fill-opacity="0.5"/>
<rect x="1015" y="1265.8" width="7.3" height="90.2" fill="#ef5350" fill-opacity="0.5"/>
<rect x="1023" y="1282.0" width="7.3" height="74.0" fill="#26a69a" fill-opacity="0.5"/>
<rect x="1032" y="1197.1" width="7.3" height="158.9" fill="#26a69a" fill-opacity="0.5"/>
<rect x="1041" y="1241.1" width="7.3" height="114.9" fill="#ef5350" fill-opacity="0.5"/>
<rect x="1049" y="1137.9" width="7.3" height="218.1" fill="#ef5350" fill-opacity="0.5"/>
<rect x="1058" y="1254.0" width="7.3" height="102.0" fill="#ef5350" fill-opacity="0.5"/>
<rect x="1067" y="1245.8" width="7.3" height="110.2" fill="#26a69a" fill-opacity="0.5"/>
<rect x="1075" y="1261.7" width="7.3" height="94.3" fill="#26a69a" fill-opacity="0.5"/>
<rect x="1084" y="1282.0" width="7.3" height="74.0" fill="#ef5350" fill-opacity="0.5"/>
<rect x="1093" y="1257.0" width="7.3" height="99.0" fill="#ef5350" fill-opacity="0.5"/>
<rect x="1101" y="1281.0" width="7.3" height="75.0" fill="#26a69a" fill-opacity="0.5"/>
<rect x="1110" y="1299.0" width="7.3" height="57.0" fill="#ef5350" fill-opacity="0.5"/>
<rect x="1119" y="1293.9" width="7.3" height="62.1" fill="#26a69a" fill-opacity="0.5"/>
<rect x="1127" y="1249.9" width="7.3" height="106.1" fill="#26a69a" fill-opacity="0.5"/>
<rect x="1136" y="1258.7" width="7.3" height="97.3" fill="#26a69a" fill-opacity="0.5"/>
<rect x="1145" y="1272.8" width="7.3" height="83.2" fill="#26a69a" fill-opacity="0.5"/>
<rect x="1153" y="1295.9" width="7.3" height="60.1" fill="#ef5350" fill-opacity="0.5"/>
<rect x="1162" y="1315.0" width="7.3" height="41.0" fill="#ef5350" fill-opacity="0.5"/>
<rect x="1171" y="1305.7" width="7.3" height="50.3" fill="#26a69a" fill-opacity="0.5"/>
<rect x="1179" y="1308.8" width="7.3" height="47.2" fill="#ef5350" fill-opacity="0.5"/>
<rect x="1188" y="1317.8" width="7.3" height="38.2" fill="#ef5350" fill-opacity="0.5"/>
<rect x="1197" y="1293.9" width="7.3" height="62.1" fill="#26a69a" fill-opacity="0.5"/>
<rect x="1205" y="1274.8" width="7.3" height="81.2" fill="#26a69a" fill-opacity="0.5"/>
<rect x="1214" y="1305.7" width="7.3" height="50.3" fill="#ef5350" fill-opacity="0.5"/>
<rect x="1223" y="1322.9" width="7.3" height="33.1" fill="#26a69a" fill-opacity="0.5"/>
<rect x="1231" y="1325.0" width="7.3" height="31.0" fill="#26a69a" fill-opacity="0.5"/>
<rect x="1240" y="1313.9" width="7.3" height="42.1" fill="#26a69a" fill-opacity="0.5"/>
<rect x="1249" y="1321.9" width="7.3" height="34.1" fill="#ef5350" fill-opacity="0.5"/>
<rect x="1257" y="1318.8" width="7.3" height="37.2" fill="#26a69a" fill-opacity="0.5"/>
<rect x="1266" y="1324.0" width="7.3" height="32.0" fill="#26a69a" fill-opacity="0.5"/>
<rect x="1274" y="1321.9" width="7.3" height="34.1" fill="#ef5350" fill-opacity="0.5"/>
<rect x="1283" y="1334.8" width="7.3" height="21.2" fill="#26a69a" fill-opacity="0.5"/>
<rect x="1292" y="1334.8" width="7.3" height="21.2" fill="#26a69a" fill-opacity="0.5"/>
<rect x="1300" y="1333.8" width="7.3" height="22.2" fill="#ef5350" fill-opacity="0.5"/>
<rect x="1309" y="1325.0" width="7.3" height="31.0" fill="#ef5350" fill-opacity="0.5"/>
<rect x="1318" y="1329.1" width="7.3" height="26.9" fill="#ef5350" fill-opacity="0.5"/>
<rect x="1326" y="1324.0" width="7.3" height="32.0" fill="#26a69a" fill-opacity="0.5"/>
<rect x="1335" y="1326.0" width="7.3" height="30.0" fill="#26a69a" fill-opacity="0.5"/>
<rect x="1344" y="1333.8" width="7.3" height="22.2" fill="#ef5350" fill-opacity="0.5"/>
<rect x="1352" y="1327.0" width="7.3" height="29.0" fill="#26a69a" fill-opacity="0.5"/>
<rect x="1361" y="1329.1" width="7.3" height="26.9" fill="#ef5350" fill-opacity="0.5"/>
<rect x="1370" y="1336.9" width="7.3" height="19.1" fill="#ef5350" fill-opacity="0.5"/>
<rect x="1378" y="1333.2" width="7.3" height="22.8" fill="#ef5350" fill-opacity="0.5"/>
<rect x="1387" y="1339.9" width="7.3" height="16.1" fill="#26a69a" fill-opacity="0.5"/>
<rect x="1396" y="1330.1" width="7.3" height="25.9" fill="#ef5350" fill-opacity="0.5"/>
<rect x="1404" y="1334.8" width="7.3" height="21.2" fill="#ef5350" fill-opacity="0.5"/>
<rect x="1413" y="1333.8" width="7.3" height="22.2" fill="#ef5350" fill-opacity="0.5"/>
<rect x="1422" y="1341.0" width="7.3" height="15.0" fill="#ef5350" fill-opacity="0.5"/>
<rect x="1430" y="1335.8" width="7.3" height="20.2" fill="#26a69a" fill-opacity="0.5"/>
<rect x="1439" y="1339.9" width="7.3" height="16.1" fill="#ef5350" fill-opacity="0.5"/>
<rect x="1448" y="1333.2" width="7.3" height="22.8" fill="#26a69a" fill-opacity="0.5"/>
<rect x="1456" y="1333.2" width="7.3" height="22.8" fill="#ef5350" fill-opacity="0.5"/>
<rect x="1465" y="1336.9" width="7.3" height="19.1" fill="#ef5350" fill-opacity="0.5"/>
<rect x="1474" y="1332.2" width="7.3" height="23.8" fill="#26a69a" fill-opacity="0.5"/>
<rect x="1482" y="1317.8" width="7.3" height="38.2" fill="#26a69a" fill-opacity="0.5"/>
<rect x="1491" y="1330.1" width="7.3" height="25.9" fill="#26a69a" fill-opacity="0.5"/>
<rect x="1500" y="1319.9" width="7.3" height="36.1" fill="#26a69a" fill-opacity="0.5"/>
<rect x="1508" y="1320.9" width="7.3" height="35.1" fill="#ef5350" fill-opacity="0.5"/>
<rect x="1517" y="1325.0" width="7.3" height="31.0" fill="#26a69a" fill-opacity="0.5"/>
<rect x="1526" y="1327.0" width="7.3" height="29.0" fill="#26a69a" fill-opacity="0.5"/>
<rect x="1534" y="1319.9" width="7.3" height="36.1" fill="#26a69a" fill-opacity="0.5"/>
<rect x="1543" y="1320.9" width="7.3" height="35.1" fill="#ef5350" fill-opacity="0.5"/>
<rect x="1552" y="1320.9" width="7.3" height="35.1" fill="#26a69a" fill-opacity="0.5"/>
<rect x="1560" y="1320.9" width="7.3" height="35.1" fill="#26a69a" fill-opacity="0.5"/>
<rect x="1569" y="1322.9" width="7.3" height="33.1" fill="#ef5350" fill-opacity="0.5"/>
<rect x="1578" y="1300.0" width="7.3" height="56.0" fill="#26a69a" fill-opacity="0.5"/>
<rect x="1586" y="1333.8" width="7.3" height="22.2" fill="#ef5350" fill-opacity="0.5"/>
<rect x="1595" y="1329.1" width="7.3" height="26.9" fill="#ef5350" fill-opacity="0.5"/>
<rect x="1604" y="1338.9" width="7.3" height="17.1" fill="#26a69a" fill-opacity="0.5"/>
<rect x="1612" y="1333.8" width="7.3" height="22.2" fill="#26a69a" fill-opacity="0.5"/>
<rect x="1621" y="1327.0" width="7.3" height="29.0" fill="#26a69a" fill-opacity="0.5"/>
<rect x="1630" y="1321.9" width="7.3" height="34.1" fill="#26a69a" fill-opacity="0.5"/>
<rect x="1638" y="1317.0" width="7.3" height="39.0" fill="#26a69a" fill-opacity="0.5"/>
<rect x="1647" y="1306.8" width="7.3" height="49.2" fill="#26a69a" fill-opacity="0.5"/>
<rect x="1655" y="1307.8" width="7.3" height="48.2" fill="#ef5350" fill-opacity="0.5"/>
<rect x="1664" y="1306.8" width="7.3" height="49.2" fill="#ef5350" fill-opacity="0.5"/>
<rect x="1673" y="1332.2" width="7.3" height="23.8" fill="#26a69a" fill-opacity="0.5"/>
<rect x="1681" y="1330.1" width="7.3" height="25.9" fill="#ef5350" fill-opacity="0.5"/>
<rect x="1690" y="1317.0" width="7.3" height="39.0" fill="#ef5350" fill-opacity="0.5"/>
<rect x="1699" y="1328.0" width="7.3" height="28.0" fill="#ef5350" fill-opacity="0.5"/>
<rect x="1707" y="1333.8" width="7.3" height="22.2" fill="#26a69a" fill-opacity="0.5"/>
<rect x="1716" y="1331.1" width="7.3" height="24.9" fill="#ef5350" fill-opacity="0.5"/>
<rect x="1725" y="1339.9" width="7.3" height="16.1" fill="#ef5350" fill-opacity="0.5"/>
<rect x="1733" y="1334.8" width="7.3" height="21.2" fill="#26a69a" fill-opacity="0.5"/>
<rect x="1742" y="1305.7" width="7.3" height="50.3" fill="#26a69a" fill-opacity="0.5"/>
<rect x="1751" y="1333.2" width="7.3" height="22.8" fill="#ef5350" fill-opacity="0.5"/>
<rect x="1759" y="1338.9" width="7.3" height="17.1" fill="#ef5350" fill-opacity="0.5"/>
<rect x="1768" y="1331.1" width="7.3" height="24.9" fill="#ef5350" fill-opacity="0.5"/>
<rect x="1777" y="1330.1" width="7.3" height="25.9" fill="#ef5350" fill-opacity="0.5"/>
<rect x="1785" y="1331.1" width="7.3" height="24.9" fill="#26a69a" fill-opacity="0.5"/>
<rect x="1794" y="1328.0" width="7.3" height="28.0" fill="#ef5350" fill-opacity="0.5"/>
<rect x="1803" y="1335.8" width="7.3" height="20.2" fill="#26a69a" fill-opacity="0.5"/>
<rect x="1811" y="1334.8" width="7.3" height="21.2" fill="#26a69a" fill-opacity="0.5"/>
<rect x="1820" y="1328.0" width="7.3" height="28.0" fill="#ef5350" fill-opacity="0.5"/>
<rect x="1829" y="1326.0" width="7.3" height="30.0" fill="#ef5350" fill-opacity="0.5"/>
<rect x="1837" y="1288.1" width="7.3" height="67.9" fill="#ef5350" fill-opacity="0.5"/>
<rect x="1846" y="1332.2" width="7.3" height="23.8" fill="#26a69a" fill-opacity="0.5"/>
<rect x="1855" y="1337.9" width="7.3" height="18.1" fill="#26a69a" fill-opacity="0.5"/>
<rect x="1863" y="1334.8" width="7.3" height="21.2" fill="#ef5350" fill-opacity="0.5"/>
<rect x="1872" y="1333.2" width="7.3" height="22.8" fill="#ef5350" fill-opacity="0.5"/>
<rect x="1881" y="1335.8" width="7.3" height="20.2" fill="#26a69a" fill-opacity="0.5"/>
<rect x="1889" y="1332.2" width="7.3" height="23.8" fill="#26a69a" fill-opacity="0.5"/>
<rect x="1898" y="1334.8" width="7.3" height="21.2" fill="#26a69a" fill-opacity="0.5"/>
<rect x="1907" y="1334.8" width="7.3" height="21.2" fill="#ef5350" fill-opacity="0.5"/>
<rect x="1915" y="1337.9" width="7.3" height="18.1" fill="#26a69a" fill-opacity="0.5"/>
<rect x="1924" y="1331.1" width="7.3" height="24.9" fill="#26a69a" fill-opacity="0.5"/>
<rect x="1933" y="1335.8" width="7.3" height="20.2" fill="#ef5350" fill-opacity="0.5"/></g>
<line x1="16" y1="717.5" x2="2525" y2="717.5" stroke="#d85240" stroke-width="1.2" stroke-dasharray="1.4 1.6"/>
<g clip-path="url(#main)"><rect x="14" y="1219.0" width="1" height="63.0" fill="#6e6e72"/>
<rect x="11" y="1219.0" width="7" height="63.0" fill="#1f5a3a"/>
<rect x="12" y="1220.0" width="5" height="61.0" fill="#6ca887"/>
<rect x="23" y="1149.2" width="1" height="73.3" fill="#6e6e72"/>
<rect x="20" y="1175.3" width="7" height="44.4" fill="#1f5a3a"/>
<rect x="21" y="1176.3" width="5" height="42.4" fill="#6ca887"/>
<rect x="31" y="1153.0" width="1" height="28.7" fill="#6e6e72"/>
<rect x="28" y="1164.2" width="7" height="12.5" fill="#1f5a3a"/>
<rect x="29" y="1165.2" width="5" height="10.5" fill="#6ca887"/>
<rect x="40" y="1132.0" width="1" height="47.7" fill="#6e6e72"/>
<rect x="37" y="1139.2" width="7" height="25.5" fill="#1f5a3a"/>
<rect x="38" y="1140.2" width="5" height="23.5" fill="#6ca887"/>
<rect x="49" y="1131.2" width="1" height="39.6" fill="#6e6e72"/>
<rect x="46" y="1139.2" width="7" height="25.5" fill="#5c1710"/>
<rect x="47" y="1140.2" width="5" height="23.5" fill="#d95542"/>
<rect x="57" y="1141.3" width="1" height="35.4" fill="#6e6e72"/>
<rect x="54" y="1141.3" width="7" height="23.4" fill="#1f5a3a"/>
<rect x="55" y="1142.3" width="5" height="21.4" fill="#6ca887"/>
<rect x="66" y="1110.0" width="1" height="110.0" fill="#6e6e72"/>
<rect x="63" y="1141.3" width="7" height="47.4" fill="#5c1710"/>
<rect x="64" y="1142.3" width="5" height="45.4" fill="#d95542"/>
<rect x="75" y="1164.2" width="1" height="45.5" fill="#6e6e72"/>
<rect x="72" y="1179.2" width="7" height="9.5" fill="#1f5a3a"/>
<rect x="73" y="1180.2" width="5" height="7.5" fill="#6ca887"/>
<rect x="83" y="1161.3" width="1" height="25.4" fill="#6e6e72"/>
<rect x="80" y="1175.8" width="7" height="3.9" fill="#1f5a3a"/>
<rect x="81" y="1176.8" width="5" height="1.9" fill="#6ca887"/>
<rect x="92" y="1173.3" width="1" height="43.4" fill="#6e6e72"/>
<rect x="89" y="1175.8" width="7" height="9.5" fill="#5c1710"/>
<rect x="90" y="1176.8" width="5" height="7.5" fill="#d95542"/>
<rect x="101" y="1177.0" width="1" height="24.7" fill="#6e6e72"/>
<rect x="98" y="1185.0" width="7" height="4.5" fill="#5c1710"/>
<rect x="99" y="1186.0" width="5" height="2.5" fill="#d95542"/>
<rect x="109" y="1170.0" width="1" height="33.0" fill="#6e6e72"/>
<rect x="106" y="1174.2" width="7" height="15.3" fill="#1f5a3a"/>
<rect x="107" y="1175.2" width="5" height="13.3" fill="#6ca887"/>
<rect x="118" y="1160.8" width="1" height="22.0" fill="#6e6e72"/>
<rect x="115" y="1171.2" width="7" height="3.5" fill="#1f5a3a"/>
<rect x="116" y="1172.2" width="5" height="1.5" fill="#6ca887"/>
<rect x="127" y="1145.0" width="1" height="35.8" fill="#6e6e72"/>
<rect x="124" y="1154.2" width="7" height="17.5" fill="#1f5a3a"/>
<rect x="125" y="1155.2" width="5" height="15.5" fill="#6ca887"/>
<rect x="135" y="1150.8" width="1" height="24.2" fill="#6e6e72"/>
<rect x="132" y="1154.2" width="7" height="6.6" fill="#5c1710"/>
<rect x="133" y="1155.2" width="5" height="4.6" fill="#d95542"/>
<rect x="144" y="1120.0" width="1" height="57.0" fill="#6e6e72"/>
<rect x="141" y="1127.2" width="7" height="33.6" fill="#1f5a3a"/>
<rect x="142" y="1128.2" width="5" height="31.6" fill="#6ca887"/>
<rect x="153" y="1115.0" width="1" height="23.0" fill="#6e6e72"/>
<rect x="150" y="1127.2" width="7" height="3.6" fill="#5c1710"/>
<rect x="151" y="1128.2" width="5" height="1.6" fill="#d95542"/>
<rect x="161" y="1066.7" width="1" height="65.0" fill="#6e6e72"/>
<rect x="158" y="1076.2" width="7" height="54.6" fill="#1f5a3a"/>
<rect x="159" y="1077.2" width="5" height="52.6" fill="#6ca887"/>
<rect x="170" y="1050.8" width="1" height="63.4" fill="#6e6e72"/>
<rect x="167" y="1070.0" width="7" height="6.7" fill="#1f5a3a"/>
<rect x="168" y="1071.0" width="5" height="4.7" fill="#6ca887"/>
<rect x="179" y="1045.8" width="1" height="30.0" fill="#6e6e72"/>
<rect x="176" y="1059.2" width="7" height="11.3" fill="#1f5a3a"/>
<rect x="177" y="1060.2" width="5" height="9.3" fill="#6ca887"/>
<rect x="187" y="1059.2" width="1" height="30.8" fill="#6e6e72"/>
<rect x="184" y="1059.2" width="7" height="5.3" fill="#5c1710"/>
<rect x="185" y="1060.2" width="5" height="3.3" fill="#d95542"/>
<rect x="196" y="1030.8" width="1" height="39.2" fill="#6e6e72"/>
<rect x="193" y="1045.0" width="7" height="19.5" fill="#1f5a3a"/>
<rect x="194" y="1046.0" width="5" height="17.5" fill="#6ca887"/>
<rect x="204" y="1018.0" width="1" height="62.0" fill="#6e6e72"/>
<rect x="201" y="1028.3" width="7" height="17.0" fill="#1f5a3a"/>
<rect x="202" y="1029.3" width="5" height="15.0" fill="#6ca887"/>
<rect x="213" y="933.1" width="1" height="95.4" fill="#6e6e72"/>
<rect x="210" y="941.2" width="7" height="87.3" fill="#1f5a3a"/>
<rect x="211" y="942.2" width="5" height="85.3" fill="#6ca887"/>
<rect x="222" y="864.0" width="1" height="102.0" fill="#6e6e72"/>
<rect x="219" y="881.3" width="7" height="60.3" fill="#1f5a3a"/>
<rect x="220" y="882.3" width="5" height="58.3" fill="#6ca887"/>
<rect x="230" y="874.3" width="1" height="86.6" fill="#6e6e72"/>
<rect x="227" y="881.3" width="7" height="5.3" fill="#5c1710"/>
<rect x="228" y="882.3" width="5" height="3.3" fill="#d95542"/>
<rect x="239" y="848.0" width="1" height="78.9" fill="#6e6e72"/>
<rect x="236" y="856.3" width="7" height="30.3" fill="#1f5a3a"/>
<rect x="237" y="857.3" width="5" height="28.3" fill="#6ca887"/>
<rect x="248" y="842.1" width="1" height="48.6" fill="#6e6e72"/>
<rect x="245" y="856.3" width="7" height="14.1" fill="#5c1710"/>
<rect x="246" y="857.3" width="5" height="12.1" fill="#d95542"/>
<rect x="256" y="799.1" width="1" height="78.5" fill="#6e6e72"/>
<rect x="253" y="820.4" width="7" height="50.0" fill="#1f5a3a"/>
<rect x="254" y="821.4" width="5" height="48.0" fill="#6ca887"/>
<rect x="265" y="784.1" width="1" height="43.4" fill="#6e6e72"/>
<rect x="262" y="794.2" width="7" height="26.3" fill="#1f5a3a"/>
<rect x="263" y="795.2" width="5" height="24.3" fill="#6ca887"/>
<rect x="274" y="764.0" width="1" height="49.7" fill="#6e6e72"/>
<rect x="271" y="777.1" width="7" height="17.5" fill="#1f5a3a"/>
<rect x="272" y="778.1" width="5" height="15.5" fill="#6ca887"/>
<rect x="282" y="776.0" width="1" height="97.9" fill="#6e6e72"/>
<rect x="279" y="777.1" width="7" height="74.6" fill="#5c1710"/>
<rect x="280" y="778.1" width="5" height="72.6" fill="#d95542"/>
<rect x="291" y="803.0" width="1" height="48.7" fill="#6e6e72"/>
<rect x="288" y="804.1" width="7" height="47.6" fill="#1f5a3a"/>
<rect x="289" y="805.1" width="5" height="45.6" fill="#6ca887"/>
<rect x="300" y="776.0" width="1" height="36.9" fill="#6e6e72"/>
<rect x="297" y="788.1" width="7" height="16.0" fill="#1f5a3a"/>
<rect x="298" y="789.1" width="5" height="14.0" fill="#6ca887"/>
<rect x="308" y="781.9" width="1" height="24.8" fill="#6e6e72"/>
<rect x="305" y="788.1" width="7" height="8.3" fill="#5c1710"/>
<rect x="306" y="789.1" width="5" height="6.3" fill="#d95542"/>
<rect x="317" y="792.9" width="1" height="37.9" fill="#6e6e72"/>
<rect x="314" y="796.4" width="7" height="14.0" fill="#5c1710"/>
<rect x="315" y="797.4" width="5" height="12.0" fill="#d95542"/>
<rect x="326" y="752.3" width="1" height="59.5" fill="#6e6e72"/>
<rect x="323" y="760.0" width="7" height="50.4" fill="#1f5a3a"/>
<rect x="324" y="761.0" width="5" height="48.4" fill="#6ca887"/>
<rect x="334" y="746.0" width="1" height="31.1" fill="#6e6e72"/>
<rect x="331" y="751.2" width="7" height="9.0" fill="#1f5a3a"/>
<rect x="332" y="752.2" width="5" height="7.0" fill="#6ca887"/>
<rect x="343" y="710.2" width="1" height="58.6" fill="#6e6e72"/>
<rect x="340" y="741.1" width="7" height="10.3" fill="#1f5a3a"/>
<rect x="341" y="742.1" width="5" height="8.3" fill="#6ca887"/>
<rect x="352" y="701.0" width="1" height="63.0" fill="#6e6e72"/>
<rect x="349" y="733.2" width="7" height="8.4" fill="#1f5a3a"/>
<rect x="350" y="734.2" width="5" height="6.4" fill="#6ca887"/>
<rect x="360" y="672.3" width="1" height="60.9" fill="#6e6e72"/>
<rect x="357" y="675.6" width="7" height="57.6" fill="#1f5a3a"/>
<rect x="358" y="676.6" width="5" height="55.6" fill="#6ca887"/>
<rect x="369" y="601.7" width="1" height="73.9" fill="#6e6e72"/>
<rect x="366" y="606.3" width="7" height="69.3" fill="#1f5a3a"/>
<rect x="367" y="607.3" width="5" height="67.3" fill="#6ca887"/>
<rect x="378" y="579.1" width="1" height="65.8" fill="#6e6e72"/>
<rect x="375" y="606.3" width="7" height="22.1" fill="#5c1710"/>
<rect x="376" y="607.3" width="5" height="20.1" fill="#d95542"/>
<rect x="386" y="626.9" width="1" height="176.5" fill="#6e6e72"/>
<rect x="383" y="628.4" width="7" height="129.0" fill="#5c1710"/>
<rect x="384" y="629.4" width="5" height="127.0" fill="#d95542"/>
<rect x="395" y="678.0" width="1" height="81.6" fill="#6e6e72"/>
<rect x="392" y="726.2" width="7" height="31.2" fill="#1f5a3a"/>
<rect x="393" y="727.2" width="5" height="29.2" fill="#6ca887"/>
<rect x="404" y="680.2" width="1" height="57.4" fill="#6e6e72"/>
<rect x="401" y="695.3" width="7" height="31.4" fill="#1f5a3a"/>
<rect x="402" y="696.3" width="5" height="29.4" fill="#6ca887"/>
<rect x="412" y="683.2" width="1" height="56.6" fill="#6e6e72"/>
<rect x="409" y="695.3" width="7" height="19.3" fill="#5c1710"/>
<rect x="410" y="696.3" width="5" height="17.3" fill="#d95542"/>
<rect x="421" y="702.1" width="1" height="61.9" fill="#6e6e72"/>
<rect x="418" y="714.6" width="7" height="27.0" fill="#5c1710"/>
<rect x="419" y="715.6" width="5" height="25.0" fill="#d95542"/>
<rect x="430" y="738.7" width="1" height="69.1" fill="#6e6e72"/>
<rect x="427" y="741.6" width="7" height="30.0" fill="#5c1710"/>
<rect x="428" y="742.6" width="5" height="28.0" fill="#d95542"/>
<rect x="438" y="726.0" width="1" height="47.8" fill="#6e6e72"/>
<rect x="435" y="733.2" width="7" height="38.4" fill="#1f5a3a"/>
<rect x="436" y="734.2" width="5" height="36.4" fill="#6ca887"/>
<rect x="447" y="724.0" width="1" height="38.7" fill="#6e6e72"/>
<rect x="444" y="733.3" width="7" height="19.1" fill="#5c1710"/>
<rect x="445" y="734.3" width="5" height="17.1" fill="#d95542"/>
<rect x="456" y="749.2" width="1" height="38.8" fill="#6e6e72"/>
<rect x="453" y="752.4" width="7" height="29.8" fill="#5c1710"/>
<rect x="454" y="753.4" width="5" height="27.8" fill="#d95542"/>
<rect x="464" y="746.6" width="1" height="57.7" fill="#6e6e72"/>
<rect x="461" y="747.2" width="7" height="35.1" fill="#1f5a3a"/>
<rect x="462" y="748.2" width="5" height="33.1" fill="#6ca887"/>
<rect x="473" y="696.1" width="1" height="54.4" fill="#6e6e72"/>
<rect x="470" y="710.4" width="7" height="36.8" fill="#1f5a3a"/>
<rect x="471" y="711.4" width="5" height="34.8" fill="#6ca887"/>
<rect x="482" y="656.2" width="1" height="63.2" fill="#6e6e72"/>
<rect x="479" y="670.5" width="7" height="39.0" fill="#1f5a3a"/>
<rect x="480" y="671.5" width="5" height="37.0" fill="#6ca887"/>
<rect x="490" y="644.8" width="1" height="34.9" fill="#6e6e72"/>
<rect x="487" y="647.5" width="7" height="23.0" fill="#1f5a3a"/>
<rect x="488" y="648.5" width="5" height="21.0" fill="#6ca887"/>
<rect x="499" y="645.3" width="1" height="29.6" fill="#6e6e72"/>
<rect x="496" y="647.5" width="7" height="5.0" fill="#5c1710"/>
<rect x="497" y="648.5" width="5" height="3.0" fill="#d95542"/>
<rect x="508" y="642.0" width="1" height="24.8" fill="#6e6e72"/>
<rect x="505" y="652.2" width="7" height="1.5" fill="#5c1710"/>
<rect x="516" y="599.2" width="1" height="59.7" fill="#6e6e72"/>
<rect x="513" y="604.3" width="7" height="49.3" fill="#1f5a3a"/>
<rect x="514" y="605.3" width="5" height="47.3" fill="#6ca887"/>
<rect x="525" y="603.6" width="1" height="66.2" fill="#6e6e72"/>
<rect x="522" y="604.3" width="7" height="36.1" fill="#5c1710"/>
<rect x="523" y="605.3" width="5" height="34.1" fill="#d95542"/>
<rect x="534" y="622.2" width="1" height="39.5" fill="#6e6e72"/>
<rect x="531" y="640.4" width="7" height="6.0" fill="#5c1710"/>
<rect x="532" y="641.4" width="5" height="4.0" fill="#d95542"/>
<rect x="542" y="644.2" width="1" height="56.5" fill="#6e6e72"/>
<rect x="539" y="646.4" width="7" height="20.1" fill="#5c1710"/>
<rect x="540" y="647.4" width="5" height="18.1" fill="#d95542"/>
<rect x="551" y="634.3" width="1" height="54.4" fill="#6e6e72"/>
<rect x="548" y="639.3" width="7" height="27.2" fill="#1f5a3a"/>
<rect x="549" y="640.3" width="5" height="25.2" fill="#6ca887"/>
<rect x="560" y="622.2" width="1" height="27.4" fill="#6e6e72"/>
<rect x="557" y="638.7" width="7" height="1.5" fill="#5c1710"/>
<rect x="568" y="603.2" width="1" height="38.1" fill="#6e6e72"/>
<rect x="565" y="611.3" width="7" height="28.5" fill="#1f5a3a"/>
<rect x="566" y="612.3" width="5" height="26.5" fill="#6ca887"/>
<rect x="577" y="579.0" width="1" height="42.8" fill="#6e6e72"/>
<rect x="574" y="596.4" width="7" height="14.9" fill="#1f5a3a"/>
<rect x="575" y="597.4" width="5" height="12.9" fill="#6ca887"/>
<rect x="585" y="575.1" width="1" height="32.4" fill="#6e6e72"/>
<rect x="582" y="584.3" width="7" height="12.1" fill="#1f5a3a"/>
<rect x="583" y="585.3" width="5" height="10.1" fill="#6ca887"/>
<rect x="594" y="564.1" width="1" height="27.9" fill="#6e6e72"/>
<rect x="591" y="566.3" width="7" height="18.2" fill="#1f5a3a"/>
<rect x="592" y="567.3" width="5" height="16.2" fill="#6ca887"/>
<rect x="603" y="554.3" width="1" height="20.3" fill="#6e6e72"/>
<rect x="600" y="565.6" width="7" height="1.5" fill="#1f5a3a"/>
<rect x="611" y="559.1" width="1" height="44.5" fill="#6e6e72"/>
<rect x="608" y="566.3" width="7" height="20.2" fill="#5c1710"/>
<rect x="609" y="567.3" width="5" height="18.2" fill="#d95542"/>
<rect x="620" y="570.0" width="1" height="35.8" fill="#6e6e72"/>
<rect x="617" y="584.3" width="7" height="2.2" fill="#1f5a3a"/>
<rect x="618" y="585.3" width="5" height="0.2" fill="#6ca887"/>
<rect x="629" y="558.2" width="1" height="69.5" fill="#6e6e72"/>
<rect x="626" y="584.3" width="7" height="5.0" fill="#5c1710"/>
<rect x="627" y="585.3" width="5" height="3.0" fill="#d95542"/>
<rect x="637" y="572.9" width="1" height="37.7" fill="#6e6e72"/>
<rect x="634" y="589.3" width="7" height="4.0" fill="#5c1710"/>
<rect x="635" y="590.3" width="5" height="2.0" fill="#d95542"/>
<rect x="646" y="592.2" width="1" height="31.6" fill="#6e6e72"/>
<rect x="643" y="593.3" width="7" height="13.1" fill="#5c1710"/>
<rect x="644" y="594.3" width="5" height="11.1" fill="#d95542"/>
<rect x="655" y="592.0" width="1" height="23.7" fill="#6e6e72"/>
<rect x="652" y="597.5" width="7" height="8.9" fill="#1f5a3a"/>
<rect x="653" y="598.5" width="5" height="6.9" fill="#6ca887"/>
<rect x="663" y="592.6" width="1" height="35.1" fill="#6e6e72"/>
<rect x="660" y="597.5" width="7" height="14.9" fill="#5c1710"/>
<rect x="661" y="598.5" width="5" height="12.9" fill="#d95542"/>
<rect x="672" y="608.0" width="1" height="62.5" fill="#6e6e72"/>
<rect x="669" y="612.4" width="7" height="47.1" fill="#5c1710"/>
<rect x="670" y="613.4" width="5" height="45.1" fill="#d95542"/>
<rect x="681" y="639.1" width="1" height="37.3" fill="#6e6e72"/>
<rect x="678" y="644.6" width="7" height="14.9" fill="#1f5a3a"/>
<rect x="679" y="645.6" width="5" height="12.9" fill="#6ca887"/>
<rect x="689" y="643.1" width="1" height="91.4" fill="#6e6e72"/>
<rect x="686" y="644.6" width="7" height="66.9" fill="#5c1710"/>
<rect x="687" y="645.6" width="5" height="64.9" fill="#d95542"/>
<rect x="698" y="694.2" width="1" height="55.2" fill="#6e6e72"/>
<rect x="695" y="705.6" width="7" height="5.9" fill="#1f5a3a"/>
<rect x="696" y="706.6" width="5" height="3.9" fill="#6ca887"/>
<rect x="707" y="665.0" width="1" height="51.5" fill="#6e6e72"/>
<rect x="704" y="666.5" width="7" height="39.1" fill="#1f5a3a"/>
<rect x="705" y="667.5" width="5" height="37.1" fill="#6ca887"/>
<rect x="715" y="649.0" width="1" height="34.6" fill="#6e6e72"/>
<rect x="712" y="666.5" width="7" height="14.9" fill="#5c1710"/>
<rect x="713" y="667.5" width="5" height="12.9" fill="#d95542"/>
<rect x="724" y="655.1" width="1" height="52.7" fill="#6e6e72"/>
<rect x="721" y="681.4" width="7" height="22.0" fill="#5c1710"/>
<rect x="722" y="682.4" width="5" height="20.0" fill="#d95542"/>
<rect x="733" y="681.4" width="1" height="53.1" fill="#6e6e72"/>
<rect x="730" y="702.8" width="7" height="1.5" fill="#5c1710"/>
<rect x="741" y="666.8" width="1" height="43.6" fill="#6e6e72"/>
<rect x="738" y="704.0" width="7" height="6.4" fill="#5c1710"/>
<rect x="739" y="705.0" width="5" height="4.4" fill="#d95542"/>
<rect x="750" y="690.2" width="1" height="29.6" fill="#6e6e72"/>
<rect x="747" y="710.0" width="7" height="3.7" fill="#5c1710"/>
<rect x="748" y="711.0" width="5" height="1.7" fill="#d95542"/>
<rect x="759" y="672.0" width="1" height="42.8" fill="#6e6e72"/>
<rect x="756" y="682.1" width="7" height="31.6" fill="#1f5a3a"/>
<rect x="757" y="683.1" width="5" height="29.6" fill="#6ca887"/>
<rect x="767" y="647.5" width="1" height="37.2" fill="#6e6e72"/>
<rect x="764" y="648.1" width="7" height="34.4" fill="#1f5a3a"/>
<rect x="765" y="649.1" width="5" height="32.4" fill="#6ca887"/>
<rect x="776" y="628.2" width="1" height="25.4" fill="#6e6e72"/>
<rect x="773" y="632.1" width="7" height="16.5" fill="#1f5a3a"/>
<rect x="774" y="633.1" width="5" height="14.5" fill="#6ca887"/>
<rect x="785" y="629.9" width="1" height="28.5" fill="#6e6e72"/>
<rect x="782" y="632.1" width="7" height="23.5" fill="#5c1710"/>
<rect x="783" y="633.1" width="5" height="21.5" fill="#d95542"/>
<rect x="793" y="654.0" width="1" height="20.2" fill="#6e6e72"/>
<rect x="790" y="655.6" width="7" height="17.1" fill="#5c1710"/>
<rect x="791" y="656.6" width="5" height="15.1" fill="#d95542"/>
<rect x="802" y="657.3" width="1" height="23.5" fill="#6e6e72"/>
<rect x="799" y="672.7" width="7" height="4.8" fill="#5c1710"/>
<rect x="800" y="673.7" width="5" height="2.8" fill="#d95542"/>
<rect x="811" y="668.3" width="1" height="26.3" fill="#6e6e72"/>
<rect x="808" y="677.5" width="7" height="7.7" fill="#5c1710"/>
<rect x="809" y="678.5" width="5" height="5.7" fill="#d95542"/>
<rect x="819" y="672.7" width="1" height="43.8" fill="#6e6e72"/>
<rect x="816" y="685.2" width="7" height="28.0" fill="#5c1710"/>
<rect x="817" y="686.2" width="5" height="26.0" fill="#d95542"/>
<rect x="828" y="713.0" width="1" height="94.8" fill="#6e6e72"/>
<rect x="825" y="713.2" width="7" height="39.3" fill="#5c1710"/>
<rect x="826" y="714.2" width="5" height="37.3" fill="#d95542"/>
<rect x="837" y="752.5" width="1" height="28.5" fill="#6e6e72"/>
<rect x="834" y="752.5" width="7" height="12.1" fill="#5c1710"/>
<rect x="835" y="753.5" width="5" height="10.1" fill="#d95542"/>
<rect x="845" y="758.0" width="1" height="49.8" fill="#6e6e72"/>
<rect x="842" y="764.6" width="7" height="28.9" fill="#5c1710"/>
<rect x="843" y="765.6" width="5" height="26.9" fill="#d95542"/>
<rect x="854" y="766.8" width="1" height="36.1" fill="#6e6e72"/>
<rect x="851" y="792.3" width="7" height="1.5" fill="#5c1710"/>
<rect x="863" y="778.8" width="1" height="71.9" fill="#6e6e72"/>
<rect x="860" y="794.4" width="7" height="55.2" fill="#5c1710"/>
<rect x="861" y="795.4" width="5" height="53.2" fill="#d95542"/>
<rect x="871" y="846.1" width="1" height="120.7" fill="#6e6e72"/>
<rect x="868" y="849.6" width="7" height="59.0" fill="#5c1710"/>
<rect x="869" y="850.6" width="5" height="57.0" fill="#d95542"/>
<rect x="880" y="877.5" width="1" height="48.2" fill="#6e6e72"/>
<rect x="877" y="893.5" width="7" height="15.1" fill="#1f5a3a"/>
<rect x="878" y="894.5" width="5" height="13.1" fill="#6ca887"/>
<rect x="889" y="885.2" width="1" height="51.5" fill="#6e6e72"/>
<rect x="886" y="893.5" width="7" height="26.1" fill="#5c1710"/>
<rect x="887" y="894.5" width="5" height="24.1" fill="#d95542"/>
<rect x="897" y="877.9" width="1" height="47.8" fill="#6e6e72"/>
<rect x="894" y="899.4" width="7" height="20.2" fill="#1f5a3a"/>
<rect x="895" y="900.4" width="5" height="18.2" fill="#6ca887"/>
<rect x="906" y="851.2" width="1" height="83.3" fill="#6e6e72"/>
<rect x="903" y="866.1" width="7" height="33.3" fill="#1f5a3a"/>
<rect x="904" y="867.1" width="5" height="31.3" fill="#6ca887"/>
<rect x="915" y="813.2" width="1" height="53.3" fill="#6e6e72"/>
<rect x="912" y="823.3" width="7" height="43.2" fill="#1f5a3a"/>
<rect x="913" y="824.3" width="5" height="41.2" fill="#6ca887"/>
<rect x="923" y="795.3" width="1" height="67.5" fill="#6e6e72"/>
<rect x="920" y="811.3" width="7" height="12.0" fill="#1f5a3a"/>
<rect x="921" y="812.3" width="5" height="10.0" fill="#6ca887"/>
<rect x="932" y="801.2" width="1" height="27.4" fill="#6e6e72"/>
<rect x="929" y="808.4" width="7" height="2.9" fill="#1f5a3a"/>
<rect x="930" y="809.4" width="5" height="0.9" fill="#6ca887"/>
<rect x="940" y="766.1" width="1" height="47.4" fill="#6e6e72"/>
<rect x="937" y="777.3" width="7" height="31.1" fill="#1f5a3a"/>
<rect x="938" y="778.3" width="5" height="29.1" fill="#6ca887"/>
<rect x="949" y="767.2" width="1" height="67.5" fill="#6e6e72"/>
<rect x="946" y="777.3" width="7" height="43.2" fill="#5c1710"/>
<rect x="947" y="778.3" width="5" height="41.2" fill="#d95542"/>
<rect x="958" y="805.1" width="1" height="46.5" fill="#6e6e72"/>
<rect x="955" y="820.5" width="7" height="31.1" fill="#5c1710"/>
<rect x="956" y="821.5" width="5" height="29.1" fill="#d95542"/>
<rect x="966" y="815.0" width="1" height="36.6" fill="#6e6e72"/>
<rect x="963" y="826.4" width="7" height="25.2" fill="#1f5a3a"/>
<rect x="964" y="827.4" width="5" height="23.2" fill="#6ca887"/>
<rect x="975" y="796.4" width="1" height="43.4" fill="#6e6e72"/>
<rect x="972" y="799.2" width="7" height="27.2" fill="#1f5a3a"/>
<rect x="973" y="800.2" width="5" height="25.2" fill="#6ca887"/>
<rect x="984" y="796.4" width="1" height="70.8" fill="#6e6e72"/>
<rect x="981" y="799.2" width="7" height="68.0" fill="#5c1710"/>
<rect x="982" y="800.2" width="5" height="66.0" fill="#d95542"/>
<rect x="992" y="853.4" width="1" height="34.4" fill="#6e6e72"/>
<rect x="989" y="867.2" width="7" height="7.0" fill="#5c1710"/>
<rect x="990" y="868.2" width="5" height="5.0" fill="#d95542"/>
<rect x="1001" y="855.6" width="1" height="26.3" fill="#6e6e72"/>
<rect x="998" y="874.2" width="7" height="3.3" fill="#5c1710"/>
<rect x="999" y="875.2" width="5" height="1.3" fill="#d95542"/>
<rect x="1010" y="858.4" width="1" height="20.6" fill="#6e6e72"/>
<rect x="1007" y="869.4" width="7" height="8.1" fill="#1f5a3a"/>
<rect x="1008" y="870.4" width="5" height="6.1" fill="#6ca887"/>
<rect x="1018" y="865.4" width="1" height="28.1" fill="#6e6e72"/>
<rect x="1015" y="869.4" width="7" height="2.8" fill="#5c1710"/>
<rect x="1016" y="870.4" width="5" height="0.8" fill="#d95542"/>
<rect x="1027" y="860.1" width="1" height="21.5" fill="#6e6e72"/>
<rect x="1024" y="861.2" width="7" height="11.4" fill="#1f5a3a"/>
<rect x="1025" y="862.2" width="5" height="9.4" fill="#6ca887"/>
<rect x="1036" y="812.9" width="1" height="55.5" fill="#6e6e72"/>
<rect x="1033" y="824.3" width="7" height="37.3" fill="#1f5a3a"/>
<rect x="1034" y="825.3" width="5" height="35.3" fill="#6ca887"/>
<rect x="1044" y="811.2" width="1" height="26.5" fill="#6e6e72"/>
<rect x="1041" y="824.3" width="7" height="4.0" fill="#5c1710"/>
<rect x="1042" y="825.3" width="5" height="2.0" fill="#d95542"/>
<rect x="1053" y="821.1" width="1" height="98.6" fill="#6e6e72"/>
<rect x="1050" y="828.3" width="7" height="59.9" fill="#5c1710"/>
<rect x="1051" y="829.3" width="5" height="57.9" fill="#d95542"/>
<rect x="1062" y="875.0" width="1" height="30.7" fill="#6e6e72"/>
<rect x="1059" y="888.2" width="7" height="17.5" fill="#5c1710"/>
<rect x="1060" y="889.2" width="5" height="15.5" fill="#d95542"/>
<rect x="1070" y="884.9" width="1" height="33.7" fill="#6e6e72"/>
<rect x="1067" y="894.3" width="7" height="11.4" fill="#1f5a3a"/>
<rect x="1068" y="895.3" width="5" height="9.4" fill="#6ca887"/>
<rect x="1079" y="871.1" width="1" height="30.7" fill="#6e6e72"/>
<rect x="1076" y="877.2" width="7" height="17.1" fill="#1f5a3a"/>
<rect x="1077" y="878.2" width="5" height="15.1" fill="#6ca887"/>
<rect x="1088" y="872.1" width="1" height="16.5" fill="#6e6e72"/>
<rect x="1085" y="877.2" width="7" height="3.7" fill="#5c1710"/>
<rect x="1086" y="878.2" width="5" height="1.7" fill="#d95542"/>
<rect x="1096" y="864.0" width="1" height="36.7" fill="#6e6e72"/>
<rect x="1093" y="880.3" width="7" height="16.4" fill="#5c1710"/>
<rect x="1094" y="881.3" width="5" height="14.4" fill="#d95542"/>
<rect x="1105" y="885.3" width="1" height="17.6" fill="#6e6e72"/>
<rect x="1102" y="889.0" width="7" height="7.7" fill="#1f5a3a"/>
<rect x="1103" y="890.0" width="5" height="5.7" fill="#6ca887"/>
<rect x="1114" y="886.0" width="1" height="8.7" fill="#6e6e72"/>
<rect x="1111" y="889.0" width="7" height="3.5" fill="#5c1710"/>
<rect x="1112" y="890.0" width="5" height="1.5" fill="#d95542"/>
<rect x="1122" y="874.3" width="1" height="19.1" fill="#6e6e72"/>
<rect x="1119" y="875.0" width="7" height="17.5" fill="#1f5a3a"/>
<rect x="1120" y="876.0" width="5" height="15.5" fill="#6ca887"/>
<rect x="1131" y="823.2" width="1" height="52.2" fill="#6e6e72"/>
<rect x="1128" y="830.0" width="7" height="45.4" fill="#1f5a3a"/>
<rect x="1129" y="831.0" width="5" height="43.4" fill="#6ca887"/>
<rect x="1140" y="811.2" width="1" height="26.5" fill="#6e6e72"/>
<rect x="1137" y="819.5" width="7" height="10.5" fill="#1f5a3a"/>
<rect x="1138" y="820.5" width="5" height="8.5" fill="#6ca887"/>
<rect x="1148" y="813.6" width="1" height="22.4" fill="#6e6e72"/>
<rect x="1145" y="816.2" width="7" height="3.3" fill="#1f5a3a"/>
<rect x="1146" y="817.2" width="5" height="1.3" fill="#6ca887"/>
<rect x="1157" y="806.4" width="1" height="26.3" fill="#6e6e72"/>
<rect x="1154" y="816.2" width="7" height="2.2" fill="#5c1710"/>
<rect x="1166" y="807.9" width="1" height="31.8" fill="#6e6e72"/>
<rect x="1163" y="818.4" width="7" height="18.0" fill="#5c1710"/>
<rect x="1164" y="819.4" width="5" height="16.0" fill="#d95542"/>
<rect x="1174" y="802.0" width="1" height="42.7" fill="#6e6e72"/>
<rect x="1171" y="811.4" width="7" height="25.0" fill="#1f5a3a"/>
<rect x="1172" y="812.4" width="5" height="23.0" fill="#6ca887"/>
<rect x="1183" y="804.8" width="1" height="23.9" fill="#6e6e72"/>
<rect x="1180" y="811.4" width="7" height="5.9" fill="#5c1710"/>
<rect x="1181" y="812.4" width="5" height="3.9" fill="#d95542"/>
<rect x="1192" y="811.4" width="1" height="19.5" fill="#6e6e72"/>
<rect x="1189" y="817.3" width="7" height="11.0" fill="#5c1710"/>
<rect x="1190" y="818.3" width="5" height="9.0" fill="#d95542"/>
<rect x="1200" y="821.1" width="1" height="38.6" fill="#6e6e72"/>
<rect x="1197" y="824.3" width="7" height="4.2" fill="#1f5a3a"/>
<rect x="1198" y="825.3" width="5" height="2.2" fill="#6ca887"/>
<rect x="1209" y="787.8" width="1" height="38.0" fill="#6e6e72"/>
<rect x="1206" y="796.1" width="7" height="28.4" fill="#1f5a3a"/>
<rect x="1207" y="797.1" width="5" height="26.4" fill="#6ca887"/>
<rect x="1218" y="786.4" width="1" height="19.0" fill="#6e6e72"/>
<rect x="1215" y="796.2" width="7" height="2.2" fill="#5c1710"/>
<rect x="1226" y="787.9" width="1" height="21.9" fill="#6e6e72"/>
<rect x="1223" y="795.1" width="7" height="3.3" fill="#1f5a3a"/>
<rect x="1224" y="796.1" width="5" height="1.3" fill="#6ca887"/>
<rect x="1235" y="776.1" width="1" height="22.8" fill="#6e6e72"/>
<rect x="1232" y="786.4" width="7" height="9.2" fill="#1f5a3a"/>
<rect x="1233" y="787.4" width="5" height="7.2" fill="#6ca887"/>
<rect x="1244" y="751.9" width="1" height="35.6" fill="#6e6e72"/>
<rect x="1241" y="755.2" width="7" height="31.6" fill="#1f5a3a"/>
<rect x="1242" y="756.2" width="5" height="29.6" fill="#6ca887"/>
<rect x="1252" y="754.1" width="1" height="36.6" fill="#6e6e72"/>
<rect x="1249" y="755.2" width="7" height="31.2" fill="#5c1710"/>
<rect x="1250" y="756.2" width="5" height="29.2" fill="#d95542"/>
<rect x="1261" y="773.2" width="1" height="22.6" fill="#6e6e72"/>
<rect x="1258" y="785.1" width="7" height="1.5" fill="#1f5a3a"/>
<rect x="1270" y="766.2" width="1" height="26.7" fill="#6e6e72"/>
<rect x="1267" y="784.5" width="7" height="1.5" fill="#1f5a3a"/>
<rect x="1278" y="783.1" width="1" height="19.7" fill="#6e6e72"/>
<rect x="1275" y="785.3" width="7" height="9.2" fill="#5c1710"/>
<rect x="1276" y="786.3" width="5" height="7.2" fill="#d95542"/>
<rect x="1287" y="787.9" width="1" height="10.5" fill="#6e6e72"/>
<rect x="1284" y="793.3" width="7" height="1.5" fill="#1f5a3a"/>
<rect x="1296" y="779.1" width="1" height="20.4" fill="#6e6e72"/>
<rect x="1293" y="780.4" width="7" height="14.1" fill="#1f5a3a"/>
<rect x="1294" y="781.4" width="5" height="12.1" fill="#6ca887"/>
<rect x="1304" y="778.2" width="1" height="10.8" fill="#6e6e72"/>
<rect x="1301" y="780.4" width="7" height="2.0" fill="#5c1710"/>
<rect x="1313" y="781.3" width="1" height="24.8" fill="#6e6e72"/>
<rect x="1310" y="782.4" width="7" height="18.7" fill="#5c1710"/>
<rect x="1311" y="783.4" width="5" height="16.7" fill="#d95542"/>
<rect x="1321" y="798.0" width="1" height="21.7" fill="#6e6e72"/>
<rect x="1318" y="801.1" width="7" height="4.3" fill="#5c1710"/>
<rect x="1319" y="802.1" width="5" height="2.3" fill="#d95542"/>
<rect x="1330" y="777.1" width="1" height="30.5" fill="#6e6e72"/>
<rect x="1327" y="781.3" width="7" height="24.1" fill="#1f5a3a"/>
<rect x="1328" y="782.3" width="5" height="22.1" fill="#6ca887"/>
<rect x="1339" y="773.9" width="1" height="17.5" fill="#6e6e72"/>
<rect x="1336" y="777.6" width="7" height="3.7" fill="#1f5a3a"/>
<rect x="1337" y="778.6" width="5" height="1.7" fill="#6ca887"/>
<rect x="1347" y="772.1" width="1" height="18.6" fill="#6e6e72"/>
<rect x="1344" y="777.6" width="7" height="8.8" fill="#5c1710"/>
<rect x="1345" y="778.6" width="5" height="6.8" fill="#d95542"/>
<rect x="1356" y="765.1" width="1" height="21.9" fill="#6e6e72"/>
<rect x="1353" y="778.2" width="7" height="8.2" fill="#1f5a3a"/>
<rect x="1354" y="779.2" width="5" height="6.2" fill="#6ca887"/>
<rect x="1365" y="777.6" width="1" height="8.8" fill="#6e6e72"/>
<rect x="1362" y="778.2" width="7" height="5.3" fill="#5c1710"/>
<rect x="1363" y="779.2" width="5" height="3.3" fill="#d95542"/>
<rect x="1373" y="782.0" width="1" height="7.6" fill="#6e6e72"/>
<rect x="1370" y="783.5" width="7" height="2.9" fill="#5c1710"/>
<rect x="1371" y="784.5" width="5" height="0.9" fill="#d95542"/>
<rect x="1382" y="784.6" width="1" height="7.7" fill="#6e6e72"/>
<rect x="1379" y="786.4" width="7" height="5.0" fill="#5c1710"/>
<rect x="1380" y="787.4" width="5" height="3.0" fill="#d95542"/>
<rect x="1391" y="784.2" width="1" height="8.1" fill="#6e6e72"/>
<rect x="1388" y="789.3" width="7" height="2.2" fill="#1f5a3a"/>
<rect x="1389" y="790.3" width="5" height="0.2" fill="#6ca887"/>
<rect x="1399" y="787.0" width="1" height="44.4" fill="#6e6e72"/>
<rect x="1396" y="789.3" width="7" height="21.3" fill="#5c1710"/>
<rect x="1397" y="790.3" width="5" height="19.3" fill="#d95542"/>
<rect x="1408" y="808.0" width="1" height="17.6" fill="#6e6e72"/>
<rect x="1405" y="810.2" width="7" height="4.4" fill="#5c1710"/>
<rect x="1406" y="811.2" width="5" height="2.4" fill="#d95542"/>
<rect x="1417" y="802.1" width="1" height="20.6" fill="#6e6e72"/>
<rect x="1414" y="814.2" width="7" height="3.3" fill="#5c1710"/>
<rect x="1415" y="815.2" width="5" height="1.3" fill="#d95542"/>
<rect x="1425" y="813.1" width="1" height="9.6" fill="#6e6e72"/>
<rect x="1422" y="817.2" width="7" height="3.3" fill="#5c1710"/>
<rect x="1423" y="818.2" width="5" height="1.3" fill="#d95542"/>
<rect x="1434" y="814.6" width="1" height="18.0" fill="#6e6e72"/>
<rect x="1431" y="818.5" width="7" height="1.5" fill="#1f5a3a"/>
<rect x="1443" y="811.3" width="1" height="15.8" fill="#6e6e72"/>
<rect x="1440" y="819.4" width="7" height="7.3" fill="#5c1710"/>
<rect x="1441" y="820.4" width="5" height="5.3" fill="#d95542"/>
<rect x="1451" y="800.4" width="1" height="26.7" fill="#6e6e72"/>
<rect x="1448" y="803.2" width="7" height="23.5" fill="#1f5a3a"/>
<rect x="1449" y="804.2" width="5" height="21.5" fill="#6ca887"/>
<rect x="1460" y="802.5" width="1" height="19.3" fill="#6e6e72"/>
<rect x="1457" y="803.2" width="7" height="15.1" fill="#5c1710"/>
<rect x="1458" y="804.2" width="5" height="13.1" fill="#d95542"/>
<rect x="1469" y="817.5" width="1" height="17.3" fill="#6e6e72"/>
<rect x="1466" y="818.3" width="7" height="11.0" fill="#5c1710"/>
<rect x="1467" y="819.3" width="5" height="9.0" fill="#d95542"/>
<rect x="1477" y="813.1" width="1" height="18.4" fill="#6e6e72"/>
<rect x="1474" y="813.1" width="7" height="16.2" fill="#1f5a3a"/>
<rect x="1475" y="814.1" width="5" height="14.2" fill="#6ca887"/>
<rect x="1486" y="786.5" width="1" height="27.0" fill="#6e6e72"/>
<rect x="1483" y="795.3" width="7" height="18.2" fill="#1f5a3a"/>
<rect x="1484" y="796.3" width="5" height="16.2" fill="#6ca887"/>
<rect x="1495" y="779.5" width="1" height="16.9" fill="#6e6e72"/>
<rect x="1492" y="782.1" width="7" height="13.4" fill="#1f5a3a"/>
<rect x="1493" y="783.1" width="5" height="11.4" fill="#6ca887"/>
<rect x="1503" y="753.2" width="1" height="34.4" fill="#6e6e72"/>
<rect x="1500" y="763.1" width="7" height="19.3" fill="#1f5a3a"/>
<rect x="1501" y="764.1" width="5" height="17.3" fill="#6ca887"/>
<rect x="1512" y="755.4" width="1" height="24.1" fill="#6e6e72"/>
<rect x="1509" y="763.1" width="7" height="4.4" fill="#5c1710"/>
<rect x="1510" y="764.1" width="5" height="2.4" fill="#d95542"/>
<rect x="1521" y="753.2" width="1" height="24.6" fill="#6e6e72"/>
<rect x="1518" y="761.3" width="7" height="6.2" fill="#1f5a3a"/>
<rect x="1519" y="762.3" width="5" height="4.2" fill="#6ca887"/>
<rect x="1529" y="744.0" width="1" height="26.7" fill="#6e6e72"/>
<rect x="1526" y="746.2" width="7" height="15.3" fill="#1f5a3a"/>
<rect x="1527" y="747.2" width="5" height="13.3" fill="#6ca887"/>
<rect x="1538" y="724.0" width="1" height="23.1" fill="#6e6e72"/>
<rect x="1535" y="730.2" width="7" height="16.0" fill="#1f5a3a"/>
<rect x="1536" y="731.2" width="5" height="14.0" fill="#6ca887"/>
<rect x="1547" y="729.1" width="1" height="24.8" fill="#6e6e72"/>
<rect x="1544" y="730.2" width="7" height="16.4" fill="#5c1710"/>
<rect x="1545" y="731.2" width="5" height="14.4" fill="#d95542"/>
<rect x="1555" y="730.2" width="1" height="24.5" fill="#6e6e72"/>
<rect x="1552" y="739.4" width="7" height="7.2" fill="#1f5a3a"/>
<rect x="1553" y="740.4" width="5" height="5.2" fill="#6ca887"/>
<rect x="1564" y="720.3" width="1" height="31.4" fill="#6e6e72"/>
<rect x="1561" y="737.2" width="7" height="2.2" fill="#1f5a3a"/>
<rect x="1573" y="721.4" width="1" height="35.5" fill="#6e6e72"/>
<rect x="1570" y="737.2" width="7" height="6.1" fill="#5c1710"/>
<rect x="1571" y="738.2" width="5" height="4.1" fill="#d95542"/>
<rect x="1581" y="695.2" width="1" height="53.5" fill="#6e6e72"/>
<rect x="1578" y="718.0" width="7" height="25.4" fill="#1f5a3a"/>
<rect x="1579" y="719.0" width="5" height="23.4" fill="#6ca887"/>
<rect x="1590" y="704.1" width="1" height="18.6" fill="#6e6e72"/>
<rect x="1587" y="717.9" width="7" height="1.5" fill="#5c1710"/>
<rect x="1599" y="719.0" width="1" height="30.7" fill="#6e6e72"/>
<rect x="1596" y="719.4" width="7" height="21.5" fill="#5c1710"/>
<rect x="1597" y="720.4" width="5" height="19.5" fill="#d95542"/>
<rect x="1607" y="726.0" width="1" height="15.6" fill="#6e6e72"/>
<rect x="1604" y="736.1" width="7" height="4.8" fill="#1f5a3a"/>
<rect x="1605" y="737.1" width="5" height="2.8" fill="#6ca887"/>
<rect x="1616" y="711.3" width="1" height="26.3" fill="#6e6e72"/>
<rect x="1613" y="714.6" width="7" height="21.9" fill="#1f5a3a"/>
<rect x="1614" y="715.6" width="5" height="19.9" fill="#6ca887"/>
<rect x="1625" y="679.1" width="1" height="37.7" fill="#6e6e72"/>
<rect x="1622" y="680.2" width="7" height="34.4" fill="#1f5a3a"/>
<rect x="1623" y="681.2" width="5" height="32.4" fill="#6ca887"/>
<rect x="1633" y="661.3" width="1" height="21.1" fill="#6e6e72"/>
<rect x="1630" y="662.4" width="7" height="18.2" fill="#1f5a3a"/>
<rect x="1631" y="663.4" width="5" height="16.2" fill="#6ca887"/>
<rect x="1642" y="632.4" width="1" height="35.1" fill="#6e6e72"/>
<rect x="1639" y="634.6" width="7" height="27.8" fill="#1f5a3a"/>
<rect x="1640" y="635.6" width="5" height="25.8" fill="#6ca887"/>
<rect x="1651" y="601.0" width="1" height="53.7" fill="#6e6e72"/>
<rect x="1648" y="608.2" width="7" height="26.4" fill="#1f5a3a"/>
<rect x="1649" y="609.2" width="5" height="24.4" fill="#6ca887"/>
<rect x="1659" y="596.2" width="1" height="43.2" fill="#6e6e72"/>
<rect x="1656" y="608.2" width="7" height="16.5" fill="#5c1710"/>
<rect x="1657" y="609.2" width="5" height="14.5" fill="#d95542"/>
<rect x="1668" y="624.7" width="1" height="41.0" fill="#6e6e72"/>
<rect x="1665" y="624.7" width="7" height="12.5" fill="#5c1710"/>
<rect x="1666" y="625.7" width="5" height="10.5" fill="#d95542"/>
<rect x="1677" y="621.4" width="1" height="17.1" fill="#6e6e72"/>
<rect x="1674" y="624.7" width="7" height="12.5" fill="#1f5a3a"/>
<rect x="1675" y="625.7" width="5" height="10.5" fill="#6ca887"/>
<rect x="1685" y="624.7" width="1" height="30.0" fill="#6e6e72"/>
<rect x="1682" y="624.7" width="7" height="12.5" fill="#5c1710"/>
<rect x="1683" y="625.7" width="5" height="10.5" fill="#d95542"/>
<rect x="1694" y="618.1" width="1" height="64.7" fill="#6e6e72"/>
<rect x="1691" y="637.2" width="7" height="21.0" fill="#5c1710"/>
<rect x="1692" y="638.2" width="5" height="19.0" fill="#d95542"/>
<rect x="1702" y="649.5" width="1" height="32.2" fill="#6e6e72"/>
<rect x="1699" y="657.6" width="7" height="1.5" fill="#5c1710"/>
<rect x="1711" y="644.0" width="1" height="20.8" fill="#6e6e72"/>
<rect x="1708" y="649.9" width="7" height="9.2" fill="#1f5a3a"/>
<rect x="1709" y="650.9" width="5" height="7.2" fill="#6ca887"/>
<rect x="1720" y="649.9" width="1" height="35.5" fill="#6e6e72"/>
<rect x="1717" y="649.9" width="7" height="10.3" fill="#5c1710"/>
<rect x="1718" y="650.9" width="5" height="8.3" fill="#d95542"/>
<rect x="1728" y="653.2" width="1" height="27.4" fill="#6e6e72"/>
<rect x="1725" y="660.2" width="7" height="17.1" fill="#5c1710"/>
<rect x="1726" y="661.2" width="5" height="15.1" fill="#d95542"/>
<rect x="1737" y="659.1" width="1" height="22.2" fill="#6e6e72"/>
<rect x="1734" y="665.3" width="7" height="12.0" fill="#1f5a3a"/>
<rect x="1735" y="666.3" width="5" height="10.0" fill="#6ca887"/>
<rect x="1746" y="604.5" width="1" height="61.9" fill="#6e6e72"/>
<rect x="1743" y="612.2" width="7" height="53.1" fill="#1f5a3a"/>
<rect x="1744" y="613.2" width="5" height="51.1" fill="#6ca887"/>
<rect x="1754" y="603.2" width="1" height="16.0" fill="#6e6e72"/>
<rect x="1751" y="612.2" width="7" height="3.1" fill="#5c1710"/>
<rect x="1752" y="613.2" width="5" height="1.1" fill="#d95542"/>
<rect x="1763" y="607.8" width="1" height="19.7" fill="#6e6e72"/>
<rect x="1760" y="615.3" width="7" height="5.0" fill="#5c1710"/>
<rect x="1761" y="616.3" width="5" height="3.0" fill="#d95542"/>
<rect x="1772" y="619.2" width="1" height="23.5" fill="#6e6e72"/>
<rect x="1769" y="620.3" width="7" height="5.1" fill="#5c1710"/>
<rect x="1770" y="621.3" width="5" height="3.1" fill="#d95542"/>
<rect x="1780" y="623.9" width="1" height="20.1" fill="#6e6e72"/>
<rect x="1777" y="625.4" width="7" height="13.8" fill="#5c1710"/>
<rect x="1778" y="626.4" width="5" height="11.8" fill="#d95542"/>
<rect x="1789" y="633.7" width="1" height="19.1" fill="#6e6e72"/>
<rect x="1786" y="637.7" width="7" height="1.5" fill="#1f5a3a"/>
<rect x="1798" y="632.2" width="1" height="54.6" fill="#6e6e72"/>
<rect x="1795" y="638.1" width="7" height="38.4" fill="#5c1710"/>
<rect x="1796" y="639.1" width="5" height="36.4" fill="#d95542"/>
<rect x="1806" y="650.2" width="1" height="34.6" fill="#6e6e72"/>
<rect x="1803" y="652.4" width="7" height="24.1" fill="#1f5a3a"/>
<rect x="1804" y="653.4" width="5" height="22.1" fill="#6ca887"/>
<rect x="1815" y="630.0" width="1" height="22.8" fill="#6e6e72"/>
<rect x="1812" y="631.1" width="7" height="21.3" fill="#1f5a3a"/>
<rect x="1813" y="632.1" width="5" height="19.3" fill="#6ca887"/>
<rect x="1824" y="629.3" width="1" height="34.5" fill="#6e6e72"/>
<rect x="1821" y="631.1" width="7" height="19.5" fill="#5c1710"/>
<rect x="1822" y="632.1" width="5" height="17.5" fill="#d95542"/>
<rect x="1832" y="641.0" width="1" height="61.8" fill="#6e6e72"/>
<rect x="1829" y="650.6" width="7" height="46.7" fill="#5c1710"/>
<rect x="1830" y="651.6" width="5" height="44.7" fill="#d95542"/>
<rect x="1841" y="694.0" width="1" height="61.0" fill="#6e6e72"/>
<rect x="1838" y="697.3" width="7" height="13.2" fill="#5c1710"/>
<rect x="1839" y="698.3" width="5" height="11.2" fill="#d95542"/>
<rect x="1850" y="689.2" width="1" height="24.6" fill="#6e6e72"/>
<rect x="1847" y="704.3" width="7" height="6.2" fill="#1f5a3a"/>
<rect x="1848" y="705.3" width="5" height="4.2" fill="#6ca887"/>
<rect x="1858" y="685.9" width="1" height="25.0" fill="#6e6e72"/>
<rect x="1855" y="692.3" width="7" height="12.0" fill="#1f5a3a"/>
<rect x="1856" y="693.3" width="5" height="10.0" fill="#6ca887"/>
<rect x="1867" y="691.8" width="1" height="32.9" fill="#6e6e72"/>
<rect x="1864" y="692.3" width="7" height="30.2" fill="#5c1710"/>
<rect x="1865" y="693.3" width="5" height="28.2" fill="#d95542"/>
<rect x="1876" y="709.4" width="1" height="41.2" fill="#6e6e72"/>
<rect x="1873" y="722.5" width="7" height="13.2" fill="#5c1710"/>
<rect x="1874" y="723.5" width="5" height="11.2" fill="#d95542"/>
<rect x="1884" y="717.7" width="1" height="20.6" fill="#6e6e72"/>
<rect x="1881" y="733.1" width="7" height="2.6" fill="#1f5a3a"/>
<rect x="1882" y="734.1" width="5" height="0.6" fill="#6ca887"/>
<rect x="1893" y="701.7" width="1" height="37.9" fill="#6e6e72"/>
<rect x="1890" y="707.2" width="7" height="26.3" fill="#1f5a3a"/>
<rect x="1891" y="708.2" width="5" height="24.3" fill="#6ca887"/>
<rect x="1902" y="694.0" width="1" height="17.1" fill="#6e6e72"/>
<rect x="1899" y="700.2" width="7" height="7.0" fill="#1f5a3a"/>
<rect x="1900" y="701.2" width="5" height="5.0" fill="#6ca887"/>
<rect x="1910" y="699.5" width="1" height="34.0" fill="#6e6e72"/>
<rect x="1907" y="700.2" width="7" height="21.2" fill="#5c1710"/>
<rect x="1908" y="701.2" width="5" height="19.2" fill="#d95542"/>
<rect x="1919" y="712.7" width="1" height="18.6" fill="#6e6e72"/>
<rect x="1916" y="718.2" width="7" height="3.2" fill="#1f5a3a"/>
<rect x="1917" y="719.2" width="5" height="1.2" fill="#6ca887"/>
<rect x="1928" y="691.4" width="1" height="27.9" fill="#6e6e72"/>
<rect x="1925" y="692.3" width="7" height="25.9" fill="#1f5a3a"/>
<rect x="1926" y="693.3" width="5" height="23.9" fill="#6ca887"/>
<rect x="1936" y="690.1" width="1" height="36.4" fill="#6e6e72"/>
<rect x="1933" y="692.3" width="7" height="25.4" fill="#5c1710"/>
<rect x="1934" y="693.3" width="5" height="23.4" fill="#d95542"/></g>
<line x1="792.3" y1="793.9" x2="2274.8" y2="494.1" stroke="#000" stroke-width="2.8" stroke-linecap="round"/>
<line x1="818.3" y1="956.5" x2="2318.2" y2="652.5" stroke="#000" stroke-width="2.8" stroke-linecap="round"/>
<line x1="1944.6" y1="695.5" x2="2239.4" y2="499.8" stroke="#000" stroke-width="3.3" stroke-dasharray="3.2 5.8"/>
<line x1="2239.4" y1="499.8" x2="2216.5" y2="496.3" stroke="#000" stroke-width="3.2" stroke-dasharray="3.2 5.8" stroke-dashoffset="6"/>
<line x1="2239.4" y1="499.8" x2="2235.2" y2="524" stroke="#000" stroke-width="3.2" stroke-dasharray="3.2 5.8" stroke-dashoffset="6"/>
<text x="2184.3" y="475.6" font-size="28" fill="#000" font-weight="bold" textLength="116.9" lengthAdjust="spacingAndGlyphs">$6,000?</text>
<text x="2244.0" y="209.1" font-size="28" fill="#000" font-weight="bold" textLength="162.0" lengthAdjust="spacingAndGlyphs">RSI support</text>
<text x="28.8" y="74.9" font-size="18.5" fill="#535356" textLength="129.3" lengthAdjust="spacingAndGlyphs">RSI (14, close)</text>
<text x="169.1" y="74.9" font-size="18.5" fill="#7e57c2" textLength="49.8" lengthAdjust="spacingAndGlyphs">44.21</text>
<text x="236.9" y="75" font-size="16" fill="#535356" text-anchor="middle">∅</text>
<text x="261.4" y="75" font-size="16" fill="#535356" text-anchor="middle">∅</text>
<text x="286" y="75" font-size="16" fill="#535356" text-anchor="middle">∅</text>
<text x="310.5" y="75" font-size="16" fill="#535356" text-anchor="middle">∅</text>
<text x="335.1" y="75" font-size="16" fill="#535356" text-anchor="middle">∅</text>
<text x="359.6" y="75" font-size="16" fill="#535356" text-anchor="middle">∅</text>
<text x="28.5" y="318.1" font-size="18.3" fill="#535356" textLength="342.8" lengthAdjust="spacingAndGlyphs">Ethereum / U.S. Dollar, 1W, COINBASE</text>
<text x="381.8" y="318.1" font-size="18.3" fill="#535356" textLength="14.2" lengthAdjust="spacingAndGlyphs">O</text>
<text x="395.6" y="318.1" font-size="18.3" fill="#6b1d14" textLength="77.4" lengthAdjust="spacingAndGlyphs">2,745.91</text>
<text x="482.9" y="318.1" font-size="18.3" fill="#535356" textLength="13.7" lengthAdjust="spacingAndGlyphs">H</text>
<text x="496.2" y="318.1" font-size="18.3" fill="#6b1d14" textLength="80.8" lengthAdjust="spacingAndGlyphs">2,768.22</text>
<text x="588.0" y="318.1" font-size="18.3" fill="#535356" textLength="11.4" lengthAdjust="spacingAndGlyphs">L</text>
<text x="599.0" y="318.1" font-size="18.3" fill="#6b1d14" textLength="79.8" lengthAdjust="spacingAndGlyphs">2,379.35</text>
<text x="689.1" y="318.1" font-size="18.3" fill="#535356" textLength="13.8" lengthAdjust="spacingAndGlyphs">C</text>
<text x="702.5" y="318.1" font-size="18.3" fill="#6b1d14" textLength="81.0" lengthAdjust="spacingAndGlyphs">2,476.56</text>
<text x="794.0" y="318.1" font-size="18.3" fill="#6b1d14" textLength="166.4" lengthAdjust="spacingAndGlyphs">−269.66 (−9.82%)</text>
<text x="28.5" y="344.9" font-size="18.3" fill="#535356" textLength="83.1" lengthAdjust="spacingAndGlyphs">Vol · ETH</text>
<text x="121.7" y="344.9" font-size="18.3" fill="#ef5350" textLength="77.5" lengthAdjust="spacingAndGlyphs">478.16 K</text>
<text x="28.5" y="371.5" font-size="18.3" fill="#535356" textLength="240.9" lengthAdjust="spacingAndGlyphs">EMA (50, close, 0, EMA, 5)</text>
<text x="280.8" y="371.5" font-size="18.3" fill="#f23645" textLength="74.4" lengthAdjust="spacingAndGlyphs">2,717.90</text>
<text x="28.5" y="398.3" font-size="18.3" fill="#535356" textLength="253.6" lengthAdjust="spacingAndGlyphs">EMA (200, close, 0, SMA, 5)</text>
<text x="293.4" y="398.3" font-size="18.3" fill="#2962ff" textLength="77.0" lengthAdjust="spacingAndGlyphs">2,125.62</text>
<rect x="2610" y="43" width="1" height="1314" fill="#3c3c3f"/>
<rect x="16" y="1356.5" width="2712" height="1.3" fill="#3c3c3f"/>
<g clip-path="url(#pax)"><text x="2624.4" y="361.3" font-size="17.6" fill="#535356" textLength="89.2" lengthAdjust="spacingAndGlyphs">11,000.00</text>
<text x="2624.4" y="409.9" font-size="17.6" fill="#535356" textLength="78.2" lengthAdjust="spacingAndGlyphs">9,000.00</text>
<text x="2624.4" y="457.3" font-size="17.6" fill="#535356" textLength="78.2" lengthAdjust="spacingAndGlyphs">7,400.00</text>
<text x="2624.4" y="516.3" font-size="17.6" fill="#535356" textLength="78.2" lengthAdjust="spacingAndGlyphs">5,800.00</text>
<text x="2624.4" y="562.1" font-size="17.6" fill="#535356" textLength="78.2" lengthAdjust="spacingAndGlyphs">4,800.00</text>
<text x="2624.4" y="618.7" font-size="17.6" fill="#535356" textLength="78.2" lengthAdjust="spacingAndGlyphs">3,800.00</text>
<text x="2624.4" y="675.9" font-size="17.6" fill="#535356" textLength="78.2" lengthAdjust="spacingAndGlyphs">3,000.00</text>
<text x="2624.4" y="786.5" font-size="17.6" fill="#535356" textLength="78.2" lengthAdjust="spacingAndGlyphs">1,900.00</text>
<text x="2624.4" y="843.7" font-size="17.6" fill="#535356" textLength="78.2" lengthAdjust="spacingAndGlyphs">1,500.00</text>
<text x="2624.4" y="897.8" font-size="17.6" fill="#535356" textLength="78.2" lengthAdjust="spacingAndGlyphs">1,200.00</text>
<text x="2624.4" y="954.3" font-size="17.6" fill="#535356" textLength="61.3" lengthAdjust="spacingAndGlyphs">950.00</text>
<text x="2624.4" y="1011.5" font-size="17.6" fill="#535356" textLength="61.3" lengthAdjust="spacingAndGlyphs">750.00</text>
<text x="2624.4" y="1065.6" font-size="17.6" fill="#535356" textLength="61.3" lengthAdjust="spacingAndGlyphs">600.00</text>
<text x="2624.4" y="1119.6" font-size="17.6" fill="#535356" textLength="61.3" lengthAdjust="spacingAndGlyphs">480.00</text>
<text x="2624.4" y="1176.2" font-size="17.6" fill="#535356" textLength="61.3" lengthAdjust="spacingAndGlyphs">380.00</text>
<text x="2624.4" y="1225.5" font-size="17.6" fill="#535356" textLength="61.3" lengthAdjust="spacingAndGlyphs">310.00</text>
<text x="2624.4" y="1277.5" font-size="17.6" fill="#535356" textLength="61.3" lengthAdjust="spacingAndGlyphs">250.00</text>
<text x="2624.4" y="1324.4" font-size="17.6" fill="#535356" textLength="61.3" lengthAdjust="spacingAndGlyphs">206.00</text>
<text x="2624.4" y="48.8" font-size="17.6" fill="#535356" textLength="61.3" lengthAdjust="spacingAndGlyphs">100.00</text>
<text x="2624.4" y="111.0" font-size="17.6" fill="#535356" textLength="50.2" lengthAdjust="spacingAndGlyphs">80.00</text>
<text x="2624.4" y="171.8" font-size="17.6" fill="#535356" textLength="50.2" lengthAdjust="spacingAndGlyphs">60.00</text></g>
<rect x="2616.5" y="292.5" width="105" height="40.5" rx="5" fill="#fff" stroke="#dde1ea" stroke-width="1"/>
<text x="2630.1" y="318.0" font-size="17.5" fill="#131722" textLength="37.4" lengthAdjust="spacingAndGlyphs">USD</text>
<path d="M2610,215 H2679 Q2682,215 2682,218 V236.5 Q2682,239.5 2679,239.5 H2610 Z" fill="#000"/>
<text x="2624.4" y="233.4" font-size="16.5" fill="#fff" textLength="49.7" lengthAdjust="spacingAndGlyphs">39.88</text>
<path d="M2528,705.1 H2610.5 V729.8 H2528 Q2525,729.8 2525,726.8 V708.1 Q2525,705.1 2528,705.1 Z" fill="#d85240"/>
<path d="M2610.5,705.1 H2706 Q2709,705.1 2709,708.1 V747.7 Q2709,750.7 2706,750.7 H2610.5 Z" fill="#d85240"/>
<text x="2531.6" y="724.0" font-size="17" fill="#fff" textLength="72.3" lengthAdjust="spacingAndGlyphs">ETHUSD</text>
<text x="2624.8" y="721.9" font-size="16.8" fill="#fff" textLength="77.0" lengthAdjust="spacingAndGlyphs">2,476.56</text>
<text x="2625.7" y="743.0" font-size="16.8" fill="#fff" textLength="75.6" lengthAdjust="spacingAndGlyphs" fill-opacity="0.82">10:53:27</text>
<rect x="2610" y="705" width="1" height="46" fill="#3c3c3f"/>
<text x="58.5" y="1385.1" font-size="17" fill="#535356" textLength="32.9" lengthAdjust="spacingAndGlyphs">Sep</text>
<text x="199.2" y="1385.1" font-size="17" fill="#535356" font-weight="bold" textLength="45.4" lengthAdjust="spacingAndGlyphs">2021</text>
<text x="351.6" y="1385.1" font-size="17" fill="#535356" textLength="34.9" lengthAdjust="spacingAndGlyphs">May</text>
<text x="508.5" y="1385.1" font-size="17" fill="#535356" textLength="32.9" lengthAdjust="spacingAndGlyphs">Sep</text>
<text x="649.5" y="1385.1" font-size="17" fill="#535356" font-weight="bold" textLength="45.4" lengthAdjust="spacingAndGlyphs">2022</text>
<text x="802.0" y="1385.1" font-size="17" fill="#535356" textLength="34.9" lengthAdjust="spacingAndGlyphs">May</text>
<text x="958.8" y="1385.1" font-size="17" fill="#535356" textLength="32.9" lengthAdjust="spacingAndGlyphs">Sep</text>
<text x="1099.7" y="1385.1" font-size="17" fill="#535356" font-weight="bold" textLength="45.4" lengthAdjust="spacingAndGlyphs">2023</text>
<text x="1252.2" y="1385.1" font-size="17" fill="#535356" textLength="34.9" lengthAdjust="spacingAndGlyphs">May</text>
<text x="1374.4" y="1385.1" font-size="17" fill="#535356" textLength="33.0" lengthAdjust="spacingAndGlyphs">Aug</text>
<text x="1550.0" y="1385.1" font-size="17" fill="#535356" font-weight="bold" textLength="45.4" lengthAdjust="spacingAndGlyphs">2024</text>
<text x="1711.2" y="1385.1" font-size="17" fill="#535356" textLength="34.9" lengthAdjust="spacingAndGlyphs">May</text>
<text x="1859.3" y="1385.1" font-size="17" fill="#535356" textLength="32.9" lengthAdjust="spacingAndGlyphs">Sep</text>
<text x="2009.0" y="1385.1" font-size="17" fill="#535356" font-weight="bold" textLength="45.4" lengthAdjust="spacingAndGlyphs">2025</text>
<text x="2161.4" y="1385.1" font-size="17" fill="#535356" textLength="34.9" lengthAdjust="spacingAndGlyphs">May</text>
<text x="2309.6" y="1385.1" font-size="17" fill="#535356" textLength="32.9" lengthAdjust="spacingAndGlyphs">Sep</text>
<text x="2459.2" y="1385.1" font-size="17" fill="#535356" font-weight="bold" textLength="45.4" lengthAdjust="spacingAndGlyphs">2026</text>
<g clip-path="url(#tax)"><text x="2592.5" y="1385.1" font-size="17" fill="#535356" textLength="23.5" lengthAdjust="spacingAndGlyphs">13</text></g>
<rect x="2610" y="1357" width="1" height="43" fill="#3c3c3f"/>
<g fill="#d1d4dc"><path d="M16,1420.6 H28.4 V1435.8 H22 V1426.3 H16 Z"/><circle cx="33.6" cy="1423.8" r="3.2"/><path d="M40.7,1420.6 H47.4 L40.7,1435.8 H33.9 Z"/></g>
<text x="52.4" y="1436.6" font-size="20" fill="#d1d4dc" textLength="120.6" lengthAdjust="spacingAndGlyphs">TradingView</text>
</svg></body></html>
